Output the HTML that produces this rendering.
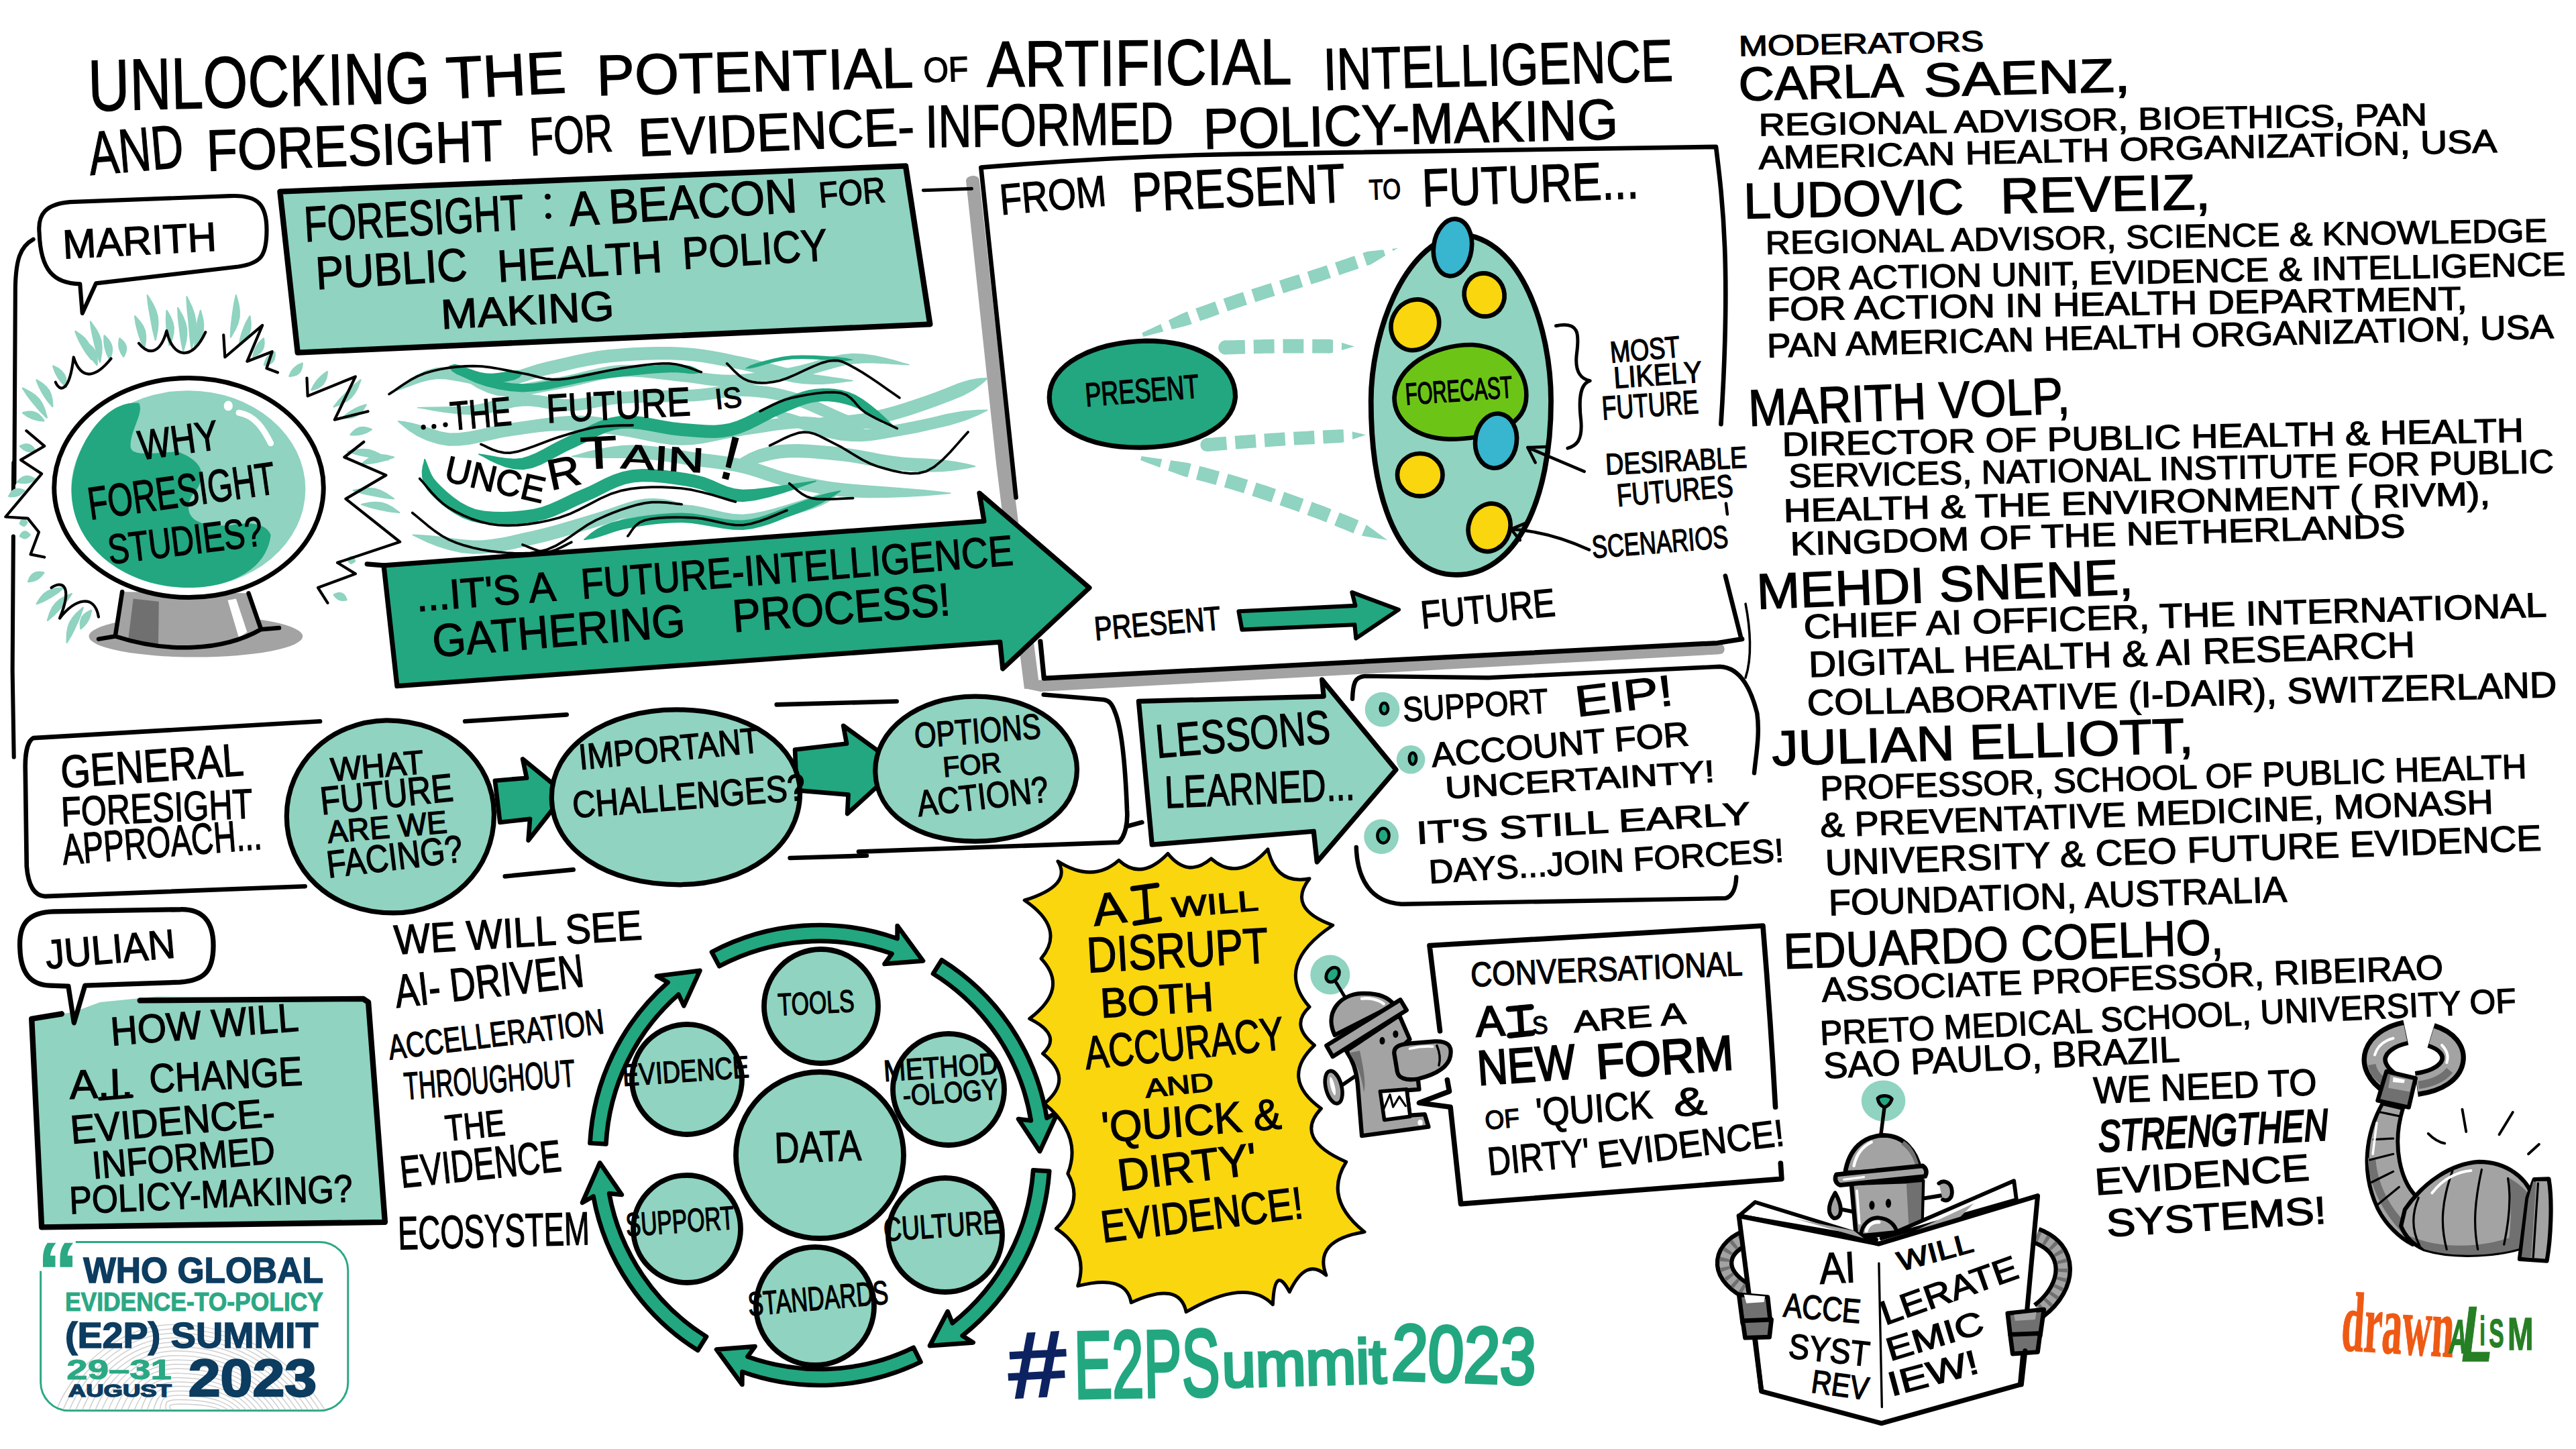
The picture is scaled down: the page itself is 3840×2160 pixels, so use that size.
<!DOCTYPE html>
<html><head><meta charset="utf-8"><title>Unlocking the potential of AI and foresight</title>
<style>
html,body{margin:0;padding:0;background:#fff;}
body{width:3840px;height:2160px;overflow:hidden;}
svg{display:block;font-family:"Liberation Sans",sans-serif;}
svg path,svg ellipse,svg line,svg polyline{stroke-linecap:round;stroke-linejoin:round;}
</style></head><body>
<svg width="3840" height="2160" viewBox="0 0 3840 2160">
<rect width="3840" height="2160" fill="#fff"/>
<!-- p01_title -->
<g transform="translate(100 40) scale(0.49689)">
<text x="65" y="252" font-size="218" transform="rotate(-1.4 65 252)" textLength="1025" lengthAdjust="spacingAndGlyphs" style="stroke:#000;stroke-width:2.8px">UNLOCKING</text>
<text x="1140" y="216" font-size="178" transform="rotate(-3 1140 216)" textLength="360" lengthAdjust="spacingAndGlyphs" style="stroke:#000;stroke-width:2.8px">THE</text>
<text x="1590" y="206" font-size="172" transform="rotate(-1.5 1590 206)" textLength="950" lengthAdjust="spacingAndGlyphs" style="stroke:#000;stroke-width:2.8px">POTENTIAL</text>
<text x="70" y="445" font-size="185" transform="rotate(-5 70 445)" textLength="285" lengthAdjust="spacingAndGlyphs" style="stroke:#000;stroke-width:2.8px">AND</text>
<text x="420" y="432" font-size="175" transform="rotate(-2 420 432)" textLength="890" lengthAdjust="spacingAndGlyphs" style="stroke:#000;stroke-width:2.8px">FORESIGHT</text>
<text x="1390" y="386" font-size="160" transform="rotate(-3 1390 386)" textLength="250" lengthAdjust="spacingAndGlyphs" style="stroke:#000;stroke-width:2.8px">FOR</text>
<text x="1715" y="388" font-size="160" transform="rotate(-2.4 1715 388)" textLength="830" lengthAdjust="spacingAndGlyphs" style="stroke:#000;stroke-width:2.8px">EVIDENCE-</text>
</g>
<g transform="translate(1280 0) scale(0.49689)">
<text x="195" y="247" font-size="105" transform="rotate(-2 195 247)" textLength="135" lengthAdjust="spacingAndGlyphs" style="stroke:#000;stroke-width:2.8px">OF</text>
<text x="385" y="260" font-size="195" transform="rotate(-0.5 385 260)" textLength="915" lengthAdjust="spacingAndGlyphs" style="stroke:#000;stroke-width:2.8px">ARTIFICIAL</text>
<text x="1395" y="270" font-size="178" transform="rotate(-1.5 1395 270)" textLength="1050" lengthAdjust="spacingAndGlyphs" style="stroke:#000;stroke-width:2.8px">INTELLIGENCE</text>
<text x="200" y="442" font-size="180" transform="rotate(-0.8 200 442)" textLength="745" lengthAdjust="spacingAndGlyphs" style="stroke:#000;stroke-width:2.8px">INFORMED</text>
<text x="1035" y="447" font-size="172" transform="rotate(-1.4 1035 447)" textLength="1245" lengthAdjust="spacingAndGlyphs" style="stroke:#000;stroke-width:2.8px">POLICY-MAKING</text>
</g>
<!-- p025_panel -->
<g transform="translate(1440 200) scale(0.49689)">
<path d="M0,140 C0,122 38,118 40,138 L135,992 L221,1664 L175,1664 L91,992 Z" fill="#a3a3a3" />
<path d="M45,100 C400,70 700,60 926,58 L2250,38 L2290,400 L2265,870 L2325,1511 L230,1630 Z" fill="#fff" />
<path d="M150,1090 L45,100 C400,70 700,60 926,58 L2250,38 C2270,200 2295,400 2265,870" fill="none" stroke="#000" stroke-width="13.4" />
<path d="M2278,1325 L2325,1511" fill="none" stroke="#000" stroke-width="13.4" />
<text x="105" y="242" font-size="130" transform="rotate(-5 105 242)" textLength="320" lengthAdjust="spacingAndGlyphs" style="stroke:#000;stroke-width:2.8px">FROM</text>
<text x="500" y="232" font-size="165" transform="rotate(-2.6 500 232)" textLength="640" lengthAdjust="spacingAndGlyphs" style="stroke:#000;stroke-width:2.8px">PRESENT</text>
<text x="1210" y="196" font-size="85" transform="rotate(-2 1210 196)" textLength="95" lengthAdjust="spacingAndGlyphs" style="stroke:#000;stroke-width:2.8px">TO</text>
<text x="1370" y="217" font-size="160" transform="rotate(-2.2 1370 217)" textLength="650" lengthAdjust="spacingAndGlyphs" style="stroke:#000;stroke-width:2.8px">FUTURE...</text>
<path d="M532.0,607.6 L542.1,605.1 L552.2,602.5 L562.2,599.9 L572.3,597.4 L582.4,594.8 L592.4,592.2 L584.1,569.4 L574.7,573.9 L565.4,578.4 L556.0,582.9 L546.7,587.4 L537.3,591.9 L528.0,596.4 Z M617.7,585.7 L627.8,583.1 L637.8,580.5 L647.9,578.0 L657.9,575.4 L668.0,572.8 L677.7,569.5 L664.1,531.9 L654.5,535.6 L645.1,540.0 L635.7,544.5 L626.4,549.0 L617.0,553.5 L607.6,558.0 Z M702.2,560.7 L711.9,557.2 L721.6,553.7 L731.3,550.2 L741.0,546.8 L750.7,543.3 L760.4,539.9 L747.2,502.2 L737.4,505.6 L727.6,509.1 L717.9,512.6 L708.1,516.0 L698.4,519.5 L688.6,523.0 Z M784.9,531.3 L794.6,528.0 L804.4,524.6 L814.1,521.3 L823.8,518.1 L833.5,514.8 L843.3,511.6 L830.9,473.6 L821.0,476.9 L811.1,480.1 L801.3,483.5 L791.4,486.8 L781.6,490.2 L771.8,493.6 Z M867.9,503.6 L877.7,500.5 L887.6,497.4 L897.4,494.2 L907.2,491.1 L917.0,488.1 L926.9,485.0 L915.0,446.8 L905.1,449.9 L895.2,453.0 L885.3,456.1 L875.4,459.2 L865.6,462.4 L855.7,465.5 Z M951.7,477.2 L961.6,474.2 L971.4,471.1 L981.3,468.0 L991.2,464.9 L1001.1,461.8 L1011.0,458.6 L998.8,420.5 L989.0,423.6 L979.2,426.7 L969.4,429.8 L959.5,432.9 L949.7,436.0 L939.8,439.0 Z M1035.8,450.7 L1045.7,447.5 L1055.5,444.2 L1065.4,441.0 L1075.2,437.7 L1085.1,434.4 L1094.9,431.2 L1082.2,393.2 L1072.4,396.5 L1062.6,399.8 L1052.8,403.0 L1043.1,406.2 L1033.3,409.4 L1023.5,412.6 Z M1119.6,422.9 L1129.4,419.6 L1139.2,416.3 L1149.0,412.9 L1158.8,409.6 L1168.6,406.3 L1178.3,403.0 L1165.5,365.1 L1155.7,368.4 L1145.9,371.7 L1136.1,375.1 L1126.3,378.4 L1116.6,381.7 L1106.8,385.0 Z M1203.0,394.6 L1212.8,391.2 L1222.1,386.5 L1231.1,381.0 L1240.1,375.5 L1249.2,369.9 L1258.2,364.4 L1252.2,346.7 L1241.6,347.9 L1231.1,349.1 L1220.6,350.3 L1210.1,351.4 L1199.8,353.4 L1190.1,356.7 Z M1280.9,350.6 L1283.3,349.1 L1285.6,347.7 L1288.0,346.3 L1290.3,344.8 L1292.7,343.4 L1295.0,342.0 L1295.0,342.0 L1292.3,342.3 L1289.5,342.6 L1286.8,342.9 L1284.1,343.2 L1281.4,343.5 L1278.6,343.8 Z" fill="#8fd3c0" />
<path d="M775.5,661.0 L785.9,660.7 L796.3,660.4 L806.6,660.1 L816.9,659.8 L827.2,659.5 L837.6,659.3 L836.4,617.3 L826.1,617.6 L815.7,617.9 L805.4,618.2 L795.1,618.5 L784.8,618.7 L774.5,619.0 Z M863.5,658.6 L873.8,658.3 L884.1,658.1 L894.4,657.8 L904.7,657.6 L915.0,657.5 L925.3,657.3 L924.6,615.3 L914.3,615.5 L903.9,615.6 L893.5,615.9 L883.2,616.1 L872.8,616.3 L862.4,616.6 Z M951.1,657.0 L961.4,656.9 L971.6,656.9 L982.0,656.9 L992.3,656.9 L1002.6,656.9 L1012.9,656.9 L1013.0,614.9 L1002.7,614.9 L992.3,614.9 L981.9,614.9 L971.6,614.9 L961.2,614.9 L950.8,615.0 Z M1038.8,657.1 L1049.2,657.1 L1059.5,657.2 L1069.8,657.3 L1080.1,657.3 L1090.5,657.4 L1100.8,655.7 L1101.1,617.3 L1090.8,615.4 L1080.4,615.3 L1070.1,615.3 L1059.8,615.2 L1049.4,615.1 L1039.1,615.1 Z M1126.9,648.1 L1133.2,646.3 L1139.6,644.4 L1145.9,642.6 L1152.3,640.7 L1158.6,638.9 L1165.0,637.0 L1165.0,637.0 L1158.7,635.1 L1152.3,633.1 L1146.0,631.2 L1139.7,629.2 L1133.4,627.3 L1127.0,625.3 Z" fill="#8fd3c0" />
<path d="M721.5,951.9 L731.8,951.2 L742.2,950.4 L752.5,949.6 L762.8,948.8 L773.1,948.0 L783.4,947.2 L780.3,907.3 L770.0,908.1 L759.7,908.9 L749.4,909.7 L739.1,910.5 L728.8,911.3 L718.5,912.1 Z M809.3,945.1 L819.6,944.4 L829.9,943.6 L840.2,942.8 L850.4,942.0 L860.7,941.2 L871.0,940.5 L868.1,900.6 L857.8,901.4 L847.5,902.1 L837.1,902.9 L826.8,903.7 L816.5,904.5 L806.2,905.3 Z M896.9,938.6 L907.2,937.9 L917.5,937.2 L927.7,936.5 L938.0,935.8 L948.3,935.1 L958.6,934.5 L956.1,894.6 L945.8,895.2 L935.4,895.9 L925.1,896.6 L914.7,897.3 L904.4,898.0 L894.1,898.7 Z M984.5,933.0 L994.7,932.4 L1005.0,931.8 L1015.3,931.3 L1025.6,930.7 L1035.9,930.2 L1046.3,929.6 L1044.2,889.7 L1033.9,890.2 L1023.5,890.8 L1013.2,891.3 L1002.9,891.9 L992.5,892.5 L982.2,893.1 Z M1072.2,928.3 L1082.5,927.8 L1092.8,927.3 L1103.1,926.8 L1113.5,926.3 L1123.8,925.8 L1134.0,924.4 L1132.2,886.2 L1121.8,885.8 L1111.5,886.3 L1101.2,886.8 L1090.8,887.3 L1080.5,887.9 L1070.2,888.4 Z M1159.6,915.7 L1166.4,913.4 L1173.1,911.2 L1179.8,908.9 L1186.6,906.6 L1193.3,904.3 L1200.0,902.0 L1200.0,902.0 L1193.1,900.4 L1186.2,898.8 L1179.3,897.2 L1172.3,895.6 L1165.4,894.0 L1158.5,892.3 Z" fill="#8fd3c0" />
<path d="M523.4,978.1 L533.1,981.8 L542.9,985.4 L552.6,989.1 L562.4,992.7 L572.1,996.3 L581.9,1000.0 L588.3,974.8 L578.0,973.4 L567.7,971.9 L557.4,970.4 L547.1,968.9 L536.9,967.4 L526.6,965.9 Z M606.4,1009.1 L616.1,1012.7 L625.8,1016.3 L635.5,1020.0 L645.2,1023.6 L655.0,1027.0 L665.0,1029.6 L675.6,988.9 L665.6,986.3 L655.4,984.5 L645.0,983.0 L634.7,981.5 L624.4,980.0 L614.2,978.5 Z M690.1,1036.2 L700.0,1038.8 L710.0,1041.5 L719.9,1044.2 L729.8,1046.8 L739.7,1049.6 L749.6,1052.3 L760.9,1011.9 L750.9,1009.1 L740.9,1006.3 L730.9,1003.6 L720.9,1000.9 L710.8,998.2 L700.8,995.6 Z M774.5,1059.4 L784.3,1062.2 L794.0,1065.1 L803.9,1068.1 L813.7,1071.1 L823.5,1074.2 L833.3,1077.2 L845.9,1037.2 L836.0,1034.1 L826.1,1031.0 L816.1,1027.9 L806.2,1024.9 L796.1,1021.9 L786.1,1019.0 Z M857.9,1085.1 L867.7,1088.3 L877.5,1091.5 L887.2,1094.7 L896.9,1097.9 L906.7,1101.2 L916.4,1104.5 L930.0,1064.8 L920.2,1061.5 L910.3,1058.1 L900.5,1054.8 L890.6,1051.6 L880.7,1048.3 L870.9,1045.1 Z M940.9,1113.0 L950.6,1116.4 L960.3,1119.8 L970.0,1123.2 L979.7,1126.7 L989.4,1130.2 L999.1,1133.7 L1013.4,1094.2 L1003.6,1090.6 L993.9,1087.1 L984.1,1083.6 L974.3,1080.2 L964.5,1076.7 L954.7,1073.3 Z M1023.4,1142.5 L1033.1,1146.1 L1042.7,1149.7 L1052.2,1153.3 L1061.8,1156.9 L1071.4,1160.6 L1080.9,1164.4 L1096.3,1125.3 L1086.6,1121.5 L1076.9,1117.7 L1067.2,1114.0 L1057.4,1110.3 L1047.6,1106.7 L1037.9,1103.1 Z M1104.9,1173.9 L1114.4,1177.8 L1124.0,1181.7 L1133.5,1185.6 L1143.0,1189.5 L1152.5,1193.5 L1162.0,1197.4 L1178.2,1158.7 L1168.6,1154.7 L1159.1,1150.7 L1149.5,1146.8 L1139.8,1142.8 L1130.2,1138.9 L1120.6,1135.0 Z M1187.1,1204.7 L1200.1,1206.9 L1213.0,1209.1 L1226.0,1211.4 L1239.0,1213.6 L1252.0,1215.8 L1265.0,1218.0 L1265.0,1218.0 L1254.3,1210.3 L1243.7,1202.6 L1233.0,1194.8 L1222.4,1187.1 L1211.7,1179.3 L1201.0,1171.6 Z" fill="#8fd3c0" />
<ellipse cx="778" cy="640" rx="21" ry="21" fill="#8fd3c0"/>
<ellipse cx="723" cy="932" rx="20" ry="20" fill="#8fd3c0"/>
<path d="M250,790 C250,690 380,625 540,620 C700,620 810,690 808,790 C800,880 680,940 520,940 C360,940 250,880 250,790 Z" fill="#22a780" stroke="#000" stroke-width="14.6" />
<text x="360" y="817" font-size="100" transform="rotate(-4.5 360 817)" textLength="342" lengthAdjust="spacingAndGlyphs" style="stroke:#000;stroke-width:2.8px">PRESENT</text>
<path d="M1480,300 C1310,330 1215,600 1215,800 C1215,1100 1300,1322 1470,1322 C1650,1322 1755,1100 1755,800 C1755,590 1670,310 1480,300 Z" fill="#8fd3c0" stroke="#000" stroke-width="15.7" />
<ellipse cx="1460" cy="340" rx="57" ry="86" fill="#38b5cf" stroke="#000" stroke-width="13.4" transform="rotate(8 1460 340)"/>
<ellipse cx="1555" cy="482" rx="60" ry="65" fill="#f9d60d" stroke="#000" stroke-width="13.4" transform="rotate(-15 1555 482)"/>
<ellipse cx="1347" cy="572" rx="70" ry="78" fill="#f9d60d" stroke="#000" stroke-width="13.4" transform="rotate(30 1347 572)"/>
<path d="M1285,790 C1290,700 1400,630 1520,632 C1630,640 1690,720 1680,800 C1670,880 1560,915 1450,915 C1350,912 1285,860 1285,790 Z" fill="#6cc516" stroke="#000" stroke-width="13.4" />
<text x="1320" y="812" font-size="92" transform="rotate(-4 1320 812)" textLength="322" lengthAdjust="spacingAndGlyphs" style="stroke:#000;stroke-width:2.8px">FORECAST</text>
<ellipse cx="1590" cy="920" rx="62" ry="82" fill="#38b5cf" stroke="#000" stroke-width="13.4" transform="rotate(8 1590 920)"/>
<ellipse cx="1362" cy="1022" rx="68" ry="64" fill="#f9d60d" stroke="#000" stroke-width="13.4"/>
<ellipse cx="1570" cy="1180" rx="62" ry="73" fill="#f9d60d" stroke="#000" stroke-width="13.4" transform="rotate(20 1570 1180)"/>
<path d="M1770,575 C1840,560 1840,600 1832,660 C1825,720 1850,735 1872,740 C1840,750 1838,800 1845,860 C1850,920 1830,935 1805,942" fill="none" stroke="#000" stroke-width="10.1" />
<text x="1935" y="686" font-size="90" transform="rotate(-5 1935 686)" textLength="210" lengthAdjust="spacingAndGlyphs" style="stroke:#000;stroke-width:2.8px">MOST</text>
<text x="1945" y="762" font-size="90" transform="rotate(-4 1945 762)" textLength="265" lengthAdjust="spacingAndGlyphs" style="stroke:#000;stroke-width:2.8px">LIKELY</text>
<text x="1910" y="857" font-size="100" transform="rotate(-4 1910 857)" textLength="290" lengthAdjust="spacingAndGlyphs" style="stroke:#000;stroke-width:2.8px">FUTURE</text>
<path d="M1855,1012 L1685,940 M1740,938 L1685,940 L1708,985" fill="none" stroke="#000" stroke-width="9.0" />
<text x="1920" y="1022" font-size="90" transform="rotate(-3 1920 1022)" textLength="425" lengthAdjust="spacingAndGlyphs" style="stroke:#000;stroke-width:2.8px">DESIRABLE</text>
<text x="1955" y="1117" font-size="95" transform="rotate(-5 1955 1117)" textLength="350" lengthAdjust="spacingAndGlyphs" style="stroke:#000;stroke-width:2.8px">FUTURES</text>
<path d="M2280,1108 L2284,1140" fill="none" stroke="#000" stroke-width="9.0" />
<path d="M1870,1247 C1800,1215 1720,1190 1635,1185 M1688,1163 L1635,1185 L1662,1218" fill="none" stroke="#000" stroke-width="9.0" />
<text x="1880" y="1272" font-size="95" transform="rotate(-4.5 1880 1272)" textLength="410" lengthAdjust="spacingAndGlyphs" style="stroke:#000;stroke-width:2.8px">SCENARIOS</text>
</g>
<g transform="translate(1280 720) scale(0.49689)">
<path d="M497,616 L520,592 L2576,486 L2590,484 C2600,490 2600,508 2590,512 L2576,514 L545,626 Z" fill="#a3a3a3" />
<path d="M545,475 L556,586 L2576,480 L2650,468" fill="none" stroke="#000" stroke-width="14.6" />
<text x="710" y="472" font-size="100" transform="rotate(-5 710 472)" textLength="380" lengthAdjust="spacingAndGlyphs" style="stroke:#000;stroke-width:2.8px">PRESENT</text>
<path d="M1140,385 L1490,368 L1480,328 L1620,380 L1492,466 L1488,425 L1150,440 Z" fill="#22a780" stroke="#000" stroke-width="12.3" />
<text x="1690" y="437" font-size="118" transform="rotate(-5.5 1690 437)" textLength="405" lengthAdjust="spacingAndGlyphs" style="stroke:#000;stroke-width:2.8px">FUTURE</text>
</g>
<!-- p02_marith -->
<g transform="translate(0 0) scale(0.49689)">
<path d="M100,718 C60,740 48,780 46,860 L43,1449" fill="none" stroke="#000" stroke-width="12.3" />
<path d="M118,700 C112,640 140,612 210,606 L690,588 C775,584 800,615 800,690 C800,765 785,790 715,800 L288,850 L247,940 L240,852 C160,850 122,810 118,700 Z" fill="#fff" stroke="#000" stroke-width="12.3" />
<text x="190" y="776" font-size="122" transform="rotate(-3 190 776)" textLength="462" lengthAdjust="spacingAndGlyphs" style="stroke:#000;stroke-width:2.8px">MARITH</text>
</g>
<g transform="translate(400 230) scale(0.49689)">
<path d="M35,112 L1912,35 L1985,510 L88,595 Z" fill="#8fd3c0" stroke="#000" stroke-width="16.8" />
<text x="110" y="262" font-size="150" transform="rotate(-3.2 110 262)" textLength="660" lengthAdjust="spacingAndGlyphs" style="stroke:#000;stroke-width:2.8px">FORESIGHT</text>
<ellipse cx="838" cy="127" rx="9" ry="9" fill="#000"/>
<ellipse cx="840" cy="185" rx="9" ry="9" fill="#000"/>
<text x="905" y="215" font-size="145" transform="rotate(-3.5 905 215)" textLength="685" lengthAdjust="spacingAndGlyphs" style="stroke:#000;stroke-width:2.8px">A BEACON</text>
<text x="1655" y="160" font-size="108" transform="rotate(-5 1655 160)" textLength="200" lengthAdjust="spacingAndGlyphs" style="stroke:#000;stroke-width:2.8px">FOR</text>
<text x="145" y="405" font-size="138" transform="rotate(-3.5 145 405)" textLength="455" lengthAdjust="spacingAndGlyphs" style="stroke:#000;stroke-width:2.8px">PUBLIC</text>
<text x="690" y="383" font-size="135" transform="rotate(-3.5 690 383)" textLength="495" lengthAdjust="spacingAndGlyphs" style="stroke:#000;stroke-width:2.8px">HEALTH</text>
<text x="1245" y="344" font-size="135" transform="rotate(-3.5 1245 344)" textLength="435" lengthAdjust="spacingAndGlyphs" style="stroke:#000;stroke-width:2.8px">POLICY</text>
<text x="520" y="524" font-size="125" transform="rotate(-3 520 524)" textLength="520" lengthAdjust="spacingAndGlyphs" style="stroke:#000;stroke-width:2.8px">MAKING</text>
<path d="M1965,108 L2110,103" fill="none" stroke="#000" stroke-width="10.1" />
</g>
<g transform="translate(0 400) scale(0.41397)">
<path d="M49,700 L48,800 M48,965 L45,1449 L50,1760" fill="none" stroke="#000" stroke-width="14.6" />
<path d="M268.2,226.4 L272.3,237.2 L278.3,252.4 L285.9,268.0 L293.3,281.3 L301.0,294.5 L310.6,308.9 L320.7,321.8 L327.9,330.8 L332.1,329.2 L331.4,317.7 L330.3,301.1 L326.3,283.0 L319.3,266.5 L308.6,252.1 L295.1,239.5 L281.3,230.0 L271.8,223.6 Z" fill="#8fd3c0" />
<path d="M298.2,261.4 L301.2,270.9 L305.5,284.4 L311.4,297.9 L317.3,309.3 L323.8,320.3 L332.2,332.4 L341.3,343.2 L347.9,350.8 L352.1,349.2 L352.1,339.2 L352.0,324.8 L349.2,309.1 L343.5,294.7 L334.3,282.3 L322.4,271.6 L310.2,263.9 L301.8,258.6 Z" fill="#8fd3c0" />
<path d="M322.9,190.8 L324.9,205.1 L327.8,225.5 L332.4,247.1 L336.9,266.3 L341.4,285.6 L346.8,307.0 L353.2,326.5 L357.8,340.2 L362.2,339.8 L364.6,325.6 L368.0,305.1 L368.8,281.8 L366.1,259.5 L358.7,238.3 L347.6,217.8 L335.5,200.9 L327.1,189.2 Z" fill="#8fd3c0" />
<path d="M372.9,240.8 L372.7,249.9 L372.5,262.7 L373.8,275.9 L375.8,287.1 L378.7,298.0 L383.1,310.5 L388.7,322.0 L392.8,330.2 L397.2,329.8 L400.2,321.3 L404.2,308.8 L406.2,294.5 L405.0,280.5 L400.1,267.4 L392.3,255.3 L383.4,245.7 L377.1,239.2 Z" fill="#8fd3c0" />
<path d="M427.9,250.8 L426.9,258.1 L425.7,268.5 L425.9,278.8 L427.0,287.2 L429.4,295.4 L433.5,304.9 L438.9,313.8 L442.8,320.1 L447.2,319.9 L450.3,313.2 L454.7,303.4 L457.0,292.2 L456.4,281.0 L452.3,270.5 L445.6,261.2 L437.7,254.0 L432.1,249.2 Z" fill="#8fd3c0" />
<path d="M483.0,170.9 L484.6,182.7 L487.0,199.4 L491.1,216.9 L495.3,232.1 L499.9,247.2 L505.9,264.1 L512.8,279.5 L517.8,290.3 L522.2,289.7 L524.2,278.0 L526.9,261.0 L527.1,242.0 L524.1,223.7 L516.8,206.7 L506.4,190.7 L495.0,177.9 L487.0,169.1 Z" fill="#8fd3c0" />
<path d="M527.9,95.7 L529.5,111.3 L532.1,133.4 L536.1,157.1 L540.1,178.4 L543.9,199.7 L548.4,223.3 L553.8,244.9 L557.8,260.1 L562.2,259.9 L565.3,244.6 L569.6,222.5 L571.5,197.3 L569.7,173.0 L562.8,149.6 L552.2,126.7 L540.4,107.5 L532.1,94.3 Z" fill="#8fd3c0" />
<path d="M597.8,150.5 L597.1,162.9 L596.2,180.4 L596.7,199.0 L597.8,215.6 L599.3,232.0 L601.6,250.6 L605.1,267.7 L607.8,279.8 L612.2,280.2 L616.6,268.6 L622.8,251.9 L627.0,232.5 L627.8,213.2 L624.1,194.4 L616.9,175.8 L608.3,160.2 L602.2,149.5 Z" fill="#8fd3c0" />
<path d="M637.8,140.6 L638.5,155.7 L639.5,177.1 L642.1,200.1 L644.7,220.7 L647.2,241.3 L650.4,264.2 L654.6,285.2 L657.8,299.9 L662.2,300.1 L666.1,285.5 L671.6,264.5 L674.9,240.4 L674.5,216.9 L669.1,194.1 L660.0,171.6 L649.5,152.5 L642.2,139.4 Z" fill="#8fd3c0" />
<path d="M669.8,100.5 L670.6,118.2 L672.0,143.4 L674.8,170.7 L677.5,195.3 L679.5,220.1 L681.9,247.4 L685.2,272.3 L687.8,289.9 L692.2,290.1 L696.7,273.0 L703.1,248.3 L707.2,220.0 L707.3,192.5 L702.0,165.5 L692.7,138.5 L681.8,115.4 L674.2,99.5 Z" fill="#8fd3c0" />
<path d="M719.8,150.0 L716.2,162.9 L711.3,181.2 L707.5,201.1 L704.6,219.0 L701.8,236.9 L699.4,257.0 L698.4,276.0 L697.9,289.3 L702.1,290.7 L709.3,279.5 L719.7,263.2 L728.7,243.7 L734.2,223.6 L735.1,202.9 L732.5,181.5 L727.7,162.9 L724.2,150.0 Z" fill="#8fd3c0" />
<path d="M847.8,95.0 L844.6,109.3 L840.3,129.7 L836.9,151.9 L834.4,171.8 L831.8,191.7 L829.4,214.0 L828.4,234.8 L827.8,249.4 L832.2,250.6 L839.4,237.9 L849.8,219.6 L858.9,197.8 L864.2,175.6 L864.6,152.8 L861.5,129.5 L856.0,109.1 L852.2,95.0 Z" fill="#8fd3c0" />
<path d="M897.8,169.6 L892.3,179.3 L884.6,193.2 L877.8,208.5 L872.5,222.3 L867.7,236.2 L863.1,252.3 L860.1,267.9 L858.0,278.9 L862.0,281.1 L870.1,273.4 L881.8,262.3 L892.8,248.0 L900.7,232.5 L904.6,215.5 L905.3,197.6 L903.5,181.5 L902.2,170.4 Z" fill="#8fd3c0" />
<path d="M947.9,249.2 L942.0,254.8 L933.8,262.7 L926.5,271.8 L921.2,280.0 L916.8,288.7 L912.7,299.5 L910.1,310.7 L908.2,318.6 L911.8,321.4 L919.0,317.8 L929.5,312.5 L939.5,304.6 L947.2,294.8 L951.7,283.2 L953.5,270.6 L952.7,258.9 L952.1,250.8 Z" fill="#8fd3c0" />
<path d="M988.1,298.9 L982.1,302.2 L973.8,306.9 L966.5,312.6 L961.3,318.0 L957.2,324.3 L953.2,332.7 L950.4,341.8 L948.5,348.3 L951.5,351.7 L958.2,350.3 L967.7,348.1 L977.1,343.5 L984.7,336.8 L989.6,327.9 L992.1,317.7 L992.1,307.9 L991.9,301.1 Z" fill="#8fd3c0" />
<path d="M1088.2,338.7 L1081.6,341.8 L1072.3,346.2 L1063.8,351.9 L1057.4,357.4 L1051.9,363.8 L1046.2,372.3 L1041.8,381.6 L1038.7,388.2 L1041.3,391.8 L1048.6,390.8 L1059.0,389.2 L1069.6,385.1 L1078.6,378.6 L1085.1,369.6 L1089.2,359.0 L1090.8,348.6 L1091.8,341.3 Z" fill="#8fd3c0" />
<path d="M1178.1,368.8 L1170.7,374.1 L1160.3,381.6 L1150.5,390.5 L1142.8,398.8 L1135.8,407.7 L1128.5,418.8 L1122.6,430.2 L1118.5,438.3 L1121.5,441.7 L1130.1,438.9 L1142.5,434.7 L1155.1,427.6 L1165.6,418.4 L1173.2,406.6 L1178.2,393.1 L1180.4,380.1 L1181.9,371.2 Z" fill="#8fd3c0" />
<path d="M1298.2,398.7 L1287.7,407.0 L1273.0,418.9 L1258.2,432.7 L1245.4,445.4 L1232.7,458.2 L1218.9,473.0 L1207.0,487.7 L1198.7,498.2 L1201.3,501.8 L1213.7,497.0 L1231.6,490.0 L1250.4,479.5 L1266.6,466.6 L1279.5,450.4 L1290.0,431.6 L1297.0,413.7 L1301.8,401.3 Z" fill="#8fd3c0" />
<path d="M1318.6,488.2 L1309.1,491.2 L1295.6,495.5 L1282.1,501.4 L1270.7,507.3 L1259.7,513.8 L1247.6,522.2 L1236.8,531.3 L1229.2,537.9 L1230.8,542.1 L1240.8,542.1 L1255.2,542.0 L1270.9,539.2 L1285.3,533.5 L1297.7,524.3 L1308.4,512.4 L1316.1,500.2 L1321.4,491.8 Z" fill="#8fd3c0" />
<path d="M78.5,431.7 L85.7,442.9 L96.2,458.8 L108.6,475.0 L120.0,489.1 L131.5,503.1 L145.0,518.4 L158.5,531.8 L168.1,541.1 L171.9,538.9 L168.4,526.0 L163.1,507.4 L154.5,487.6 L143.2,470.1 L128.3,455.5 L110.6,443.2 L93.4,434.4 L81.5,428.3 Z" fill="#8fd3c0" />
<path d="M128.3,401.4 L132.3,411.8 L138.3,426.5 L145.8,441.4 L153.1,454.1 L160.9,466.5 L170.5,480.2 L180.7,492.4 L187.9,500.9 L192.1,499.1 L191.3,488.0 L190.0,472.0 L185.9,454.6 L178.9,438.7 L168.2,425.0 L154.7,413.2 L141.2,404.5 L131.7,398.6 Z" fill="#8fd3c0" />
<path d="M188.3,351.5 L191.2,360.3 L195.5,372.6 L201.3,384.9 L207.1,394.9 L213.6,404.6 L222.1,415.1 L231.3,424.4 L237.9,430.9 L242.1,429.1 L241.9,419.9 L241.5,406.5 L238.4,392.1 L232.5,379.1 L223.3,368.1 L211.8,359.0 L199.9,352.8 L191.7,348.5 Z" fill="#8fd3c0" />
<path d="M79.5,522.2 L86.4,527.2 L96.2,534.2 L107.0,540.1 L116.5,544.2 L126.4,547.4 L138.4,550.1 L150.4,551.2 L158.9,552.0 L161.1,548.0 L156.0,541.2 L148.6,531.4 L138.5,522.5 L127.1,516.2 L114.3,513.4 L100.8,513.5 L88.8,516.0 L80.5,517.8 Z" fill="#8fd3c0" />
<path d="M69.6,642.2 L74.7,646.6 L81.9,652.8 L89.7,657.6 L96.5,660.6 L103.7,662.3 L112.8,663.1 L122.3,662.5 L129.0,662.0 L131.0,658.0 L127.5,652.3 L122.3,644.1 L114.8,636.9 L105.9,632.2 L96.0,630.6 L85.7,631.9 L76.6,635.3 L70.4,637.8 Z" fill="#8fd3c0" />
<path d="M60.6,772.2 L67.8,773.6 L77.9,775.6 L88.1,776.2 L96.5,775.6 L104.7,773.8 L114.4,770.4 L123.5,765.7 L130.0,762.2 L130.0,757.8 L123.6,754.2 L114.3,749.2 L103.4,746.1 L92.3,746.0 L81.7,749.2 L72.0,755.3 L64.5,762.7 L59.4,767.8 Z" fill="#8fd3c0" />
<path d="M31.1,824.0 L37.9,824.2 L47.4,824.5 L56.6,823.4 L63.8,821.5 L70.6,818.3 L78.4,813.2 L85.4,806.8 L90.4,802.2 L89.6,797.8 L83.2,795.5 L73.9,792.4 L63.5,791.5 L53.5,793.3 L44.7,798.4 L37.4,805.8 L32.3,814.2 L28.9,820.0 Z" fill="#8fd3c0" />
<path d="M70.7,922.1 L74.4,924.6 L79.6,928.0 L84.2,930.0 L87.2,930.5 L89.8,929.1 L93.5,925.7 L97.3,920.8 L100.0,917.2 L100.0,912.8 L97.2,909.3 L93.0,904.5 L87.8,901.4 L82.2,900.9 L77.1,903.2 L73.2,907.8 L70.8,913.7 L69.3,917.9 Z" fill="#8fd3c0" />
<path d="M70.6,967.2 L75.1,969.5 L81.3,972.8 L87.3,974.6 L91.6,975.0 L95.6,973.6 L100.9,970.3 L106.2,965.6 L109.9,962.2 L110.1,957.8 L106.5,954.2 L101.2,949.1 L94.8,945.9 L87.8,945.2 L81.3,947.6 L75.8,952.3 L72.0,958.5 L69.4,962.8 Z" fill="#8fd3c0" />
<path d="M101.4,1131.8 L108.5,1130.5 L118.5,1128.6 L128.0,1125.4 L135.5,1121.9 L142.2,1117.2 L149.7,1110.4 L156.2,1102.7 L160.8,1097.1 L159.2,1092.9 L152.0,1092.0 L141.7,1090.8 L130.5,1092.0 L120.3,1095.9 L111.9,1102.9 L105.4,1112.0 L101.3,1121.6 L98.6,1128.2 Z" fill="#8fd3c0" />
<path d="M131.4,1211.7 L141.8,1207.7 L156.5,1201.7 L171.4,1194.2 L184.1,1186.9 L196.5,1179.1 L210.2,1169.5 L222.4,1159.3 L230.9,1152.1 L229.1,1147.9 L218.0,1148.7 L202.0,1150.0 L184.6,1154.1 L168.7,1161.1 L155.0,1171.8 L143.2,1185.3 L134.5,1198.8 L128.6,1208.3 Z" fill="#8fd3c0" />
<path d="M171.9,1271.2 L181.5,1262.9 L195.1,1251.0 L208.6,1237.3 L220.1,1224.6 L231.5,1211.8 L243.8,1197.0 L254.2,1182.2 L261.4,1171.7 L258.6,1168.3 L246.9,1173.3 L230.1,1180.7 L212.7,1191.5 L197.9,1204.6 L186.4,1220.7 L177.5,1239.2 L171.9,1256.6 L168.1,1268.8 Z" fill="#8fd3c0" />
<path d="M242.2,1350.6 L249.1,1339.1 L258.9,1322.6 L268.1,1304.3 L275.8,1287.7 L283.4,1271.1 L291.4,1252.2 L297.6,1234.0 L301.9,1221.2 L298.1,1218.8 L288.1,1227.7 L273.6,1240.7 L259.5,1257.2 L248.6,1275.1 L242.0,1295.0 L238.6,1316.5 L238.1,1335.9 L237.8,1349.4 Z" fill="#8fd3c0" />
<path d="M292.1,1300.8 L298.0,1295.2 L306.2,1287.3 L313.5,1278.2 L318.8,1270.0 L323.2,1261.3 L327.3,1250.5 L329.9,1239.3 L331.8,1231.4 L328.2,1228.6 L321.0,1232.2 L310.5,1237.5 L300.5,1245.4 L292.8,1255.2 L288.3,1266.8 L286.5,1279.4 L287.3,1291.1 L287.9,1299.2 Z" fill="#8fd3c0" />
<path d="M1260.9,602.1 L1269.1,602.4 L1280.8,602.8 L1292.6,601.6 L1302.4,599.8 L1312.0,596.8 L1322.9,592.2 L1333.1,586.4 L1340.2,582.2 L1339.8,577.8 L1332.0,575.0 L1320.7,571.1 L1307.8,569.4 L1295.2,570.6 L1283.4,575.5 L1272.8,583.1 L1264.7,591.8 L1259.1,597.9 Z" fill="#8fd3c0" />
<path d="M1249.9,662.2 L1263.6,666.4 L1283.2,672.1 L1304.6,676.9 L1323.9,680.7 L1343.1,684.6 L1364.7,688.4 L1385.0,690.7 L1399.2,692.1 L1400.8,687.9 L1388.9,679.9 L1371.7,668.4 L1351.0,658.0 L1329.7,651.3 L1307.5,649.3 L1284.4,650.9 L1264.1,654.9 L1250.1,657.8 Z" fill="#8fd3c0" />
<path d="M1300.8,707.1 L1312.5,706.5 L1329.0,705.5 L1346.4,702.9 L1361.6,700.0 L1376.7,696.6 L1393.6,692.0 L1409.2,686.3 L1420.1,682.2 L1419.9,677.8 L1408.6,674.9 L1392.2,670.8 L1373.6,669.1 L1355.4,670.6 L1338.2,676.4 L1321.8,685.5 L1308.4,695.7 L1299.2,702.9 Z" fill="#8fd3c0" />
<path d="M1269.9,802.2 L1283.6,806.4 L1303.2,812.1 L1324.6,816.9 L1343.9,820.7 L1363.1,824.6 L1384.7,828.4 L1405.0,830.7 L1419.2,832.1 L1420.8,827.9 L1408.9,819.9 L1391.7,808.4 L1371.0,798.0 L1349.7,791.3 L1327.5,789.3 L1304.4,790.9 L1284.1,794.9 L1270.1,797.8 Z" fill="#8fd3c0" />
<path d="M1299.9,852.2 L1312.7,856.5 L1330.9,862.4 L1350.8,867.4 L1368.7,871.3 L1386.6,875.0 L1406.7,878.7 L1425.8,880.8 L1439.2,882.1 L1440.8,877.9 L1429.9,870.0 L1414.0,858.8 L1394.9,848.6 L1374.9,841.9 L1354.1,839.9 L1332.4,841.3 L1313.3,845.1 L1300.1,847.8 Z" fill="#8fd3c0" />
<path d="M1250.0,1052.2 L1252.7,1055.8 L1256.5,1060.7 L1260.2,1064.1 L1262.8,1065.5 L1265.8,1065.0 L1270.4,1063.0 L1275.6,1059.6 L1279.3,1057.1 L1280.7,1052.9 L1279.2,1048.7 L1276.8,1042.8 L1272.9,1038.2 L1267.8,1035.9 L1262.2,1036.4 L1257.0,1039.5 L1252.8,1044.3 L1250.0,1047.8 Z" fill="#8fd3c0" />
<path d="M1199.5,1177.2 L1203.5,1181.7 L1209.1,1188.0 L1215.3,1193.0 L1220.6,1195.9 L1226.6,1197.5 L1234.5,1198.1 L1242.9,1197.5 L1248.9,1196.9 L1251.1,1193.1 L1248.7,1187.6 L1245.0,1179.7 L1239.2,1172.8 L1231.8,1168.1 L1223.1,1166.4 L1214.1,1167.4 L1206.1,1170.5 L1200.5,1172.8 Z" fill="#8fd3c0" />
<path d="M200,410 C215,445 250,450 265,320 C290,400 340,400 400,325" fill="none" stroke="#000" stroke-width="10.1" />
<path d="M500,270 C540,320 580,300 600,225 C620,320 690,340 740,230" fill="none" stroke="#000" stroke-width="10.1" />
<path d="M805,240 L810,320 L945,205 L890,335 L980,300 L960,360 L1000,375" fill="none" stroke="#000" stroke-width="10.1" />
<path d="M1105,395 L1108,460 L1280,390 L1205,545 L1325,515" fill="none" stroke="#000" stroke-width="10.1" />
<path d="M1310,625 L1240,680 L1390,745 L1245,830 L1440,985 L1215,1060 L1280,1100 L1145,1150 L1180,1205" fill="none" stroke="#000" stroke-width="10.1" />
<path d="M95,585 L160,640 L75,690 L150,740 L20,895 L100,900 L140,950 L110,1030 L160,1040" fill="none" stroke="#000" stroke-width="10.1" />
<path d="M185,1150 C230,1120 260,1150 215,1260 C270,1190 340,1170 355,1255" fill="none" stroke="#000" stroke-width="10.1" />
<ellipse cx="705" cy="1325" rx="385" ry="75" fill="#a3a3a3"/>
<path d="M440,1165 L415,1325 C600,1385 800,1380 940,1300 L895,1170 Z" fill="#a3a3a3" />
<path d="M480,1190 L462,1335 L570,1360 L572,1200 Z" fill="#707070" />
<path d="M820,1195 L860,1330 L890,1310 L850,1190 Z" fill="#fff" />
<path d="M440,1165 L415,1325 L355,1335 M415,1325 C600,1385 800,1380 940,1300 L1005,1295 M940,1300 L895,1170" fill="none" stroke="#000" stroke-width="15.7" />
<ellipse cx="680" cy="790" rx="485" ry="395" fill="#fff" stroke="#000" stroke-width="16.8"/>
<ellipse cx="678" cy="795" rx="422" ry="355" fill="#8fd3c0"/>
<path d="M500,485 C380,470 265,640 258,790 C250,1000 450,1150 680,1150 C820,1150 960,1090 975,960 C960,920 900,910 830,925 C720,935 650,900 690,820 C760,740 720,690 640,660 C560,665 470,680 470,640 C470,580 520,520 500,485 Z" fill="#22a780" />
<path d="M860,520 C920,530 950,580 975,630" fill="none" stroke="#fff" stroke-width="22" />
<ellipse cx="822" cy="495" rx="16" ry="18" fill="#fff"/>
<text x="505" y="690" font-size="150" transform="rotate(-8 505 690)" textLength="290" lengthAdjust="spacingAndGlyphs" style="stroke:#000;stroke-width:3.4px">WHY</text>
<text x="325" y="905" font-size="165" transform="rotate(-8 325 905)" textLength="680" lengthAdjust="spacingAndGlyphs" style="stroke:#000;stroke-width:3.4px">FORESIGHT</text>
<text x="395" y="1065" font-size="150" transform="rotate(-7 395 1065)" textLength="560" lengthAdjust="spacingAndGlyphs" style="stroke:#000;stroke-width:3.4px">STUDIES?</text>
</g>
<!-- p03_waves -->
<g transform="translate(560 520) scale(0.36491)">
<path d="M60.9,181.9 L82.2,174.3 L111.5,163.5 L145.5,150.4 L181.9,137.7 L218.4,127.9 L252.6,123.3 L287.3,124.8 L326.6,130.8 L369.3,139.1 L413.5,147.9 L457.9,154.7 L500.7,156.4 L539.7,152.4 L575.0,144.9 L607.9,135.3 L639.6,124.8 L671.6,114.7 L706.3,105.7 L744.2,97.0 L783.8,87.6 L824.4,78.3 L866.1,69.7 L908.9,62.2 L953.0,56.3 L999.9,51.8 L1049.7,48.3 L1100.9,45.8 L1152.1,44.6 L1201.8,44.8 L1248.5,46.4 L1291.9,49.9 L1333.3,55.1 L1373.5,61.7 L1413.4,69.3 L1453.6,77.5 L1494.5,85.9 L1536.1,95.1 L1578.5,106.0 L1621.3,117.4 L1664.0,128.4 L1705.9,137.4 L1746.4,143.2 L1786.6,145.4 L1826.8,145.0 L1865.3,142.5 L1899.9,138.7 L1928.7,134.3 L1949.9,132.1 L1950.1,127.9 L1928.9,124.7 L1900.1,119.9 L1866.0,115.0 L1828.7,109.8 L1790.5,103.9 L1753.6,96.8 L1716.5,87.9 L1676.7,77.5 L1634.9,66.3 L1591.9,54.8 L1548.4,43.7 L1505.5,34.1 L1464.2,25.7 L1423.6,17.4 L1382.7,9.6 L1340.8,2.7 L1297.2,-2.8 L1251.5,-6.4 L1202.8,-8.1 L1151.6,-8.3 L1099.1,-7.1 L1046.6,-4.6 L995.5,-0.9 L947.0,3.7 L900.8,9.9 L856.1,17.7 L813.1,26.7 L771.8,36.1 L732.2,45.4 L693.7,54.3 L657.1,63.8 L623.4,74.5 L592.1,84.7 L562.0,93.6 L531.6,100.2 L499.3,103.6 L463.2,102.0 L422.8,95.8 L379.4,87.2 L334.9,78.9 L290.3,74.3 L247.4,76.7 L206.9,87.8 L168.5,105.2 L133.3,125.8 L102.6,146.9 L77.7,165.8 L59.1,178.1 Z" fill="#8fd3c0" />
<path d="M299.1,81.7 L319.1,95.0 L345.8,115.3 L378.6,138.0 L415.7,160.2 L455.7,179.1 L496.9,191.2 L538.9,195.3 L582.0,193.5 L625.7,187.6 L669.3,179.7 L712.2,171.3 L754.4,163.7 L796.7,155.6 L839.0,145.7 L880.6,135.4 L921.6,125.9 L961.8,118.4 L1001.5,114.1 L1041.8,113.4 L1083.4,115.6 L1125.5,119.6 L1167.4,124.7 L1208.4,129.8 L1247.4,134.0 L1282.7,137.9 L1315.1,142.4 L1346.8,147.1 L1379.1,151.1 L1413.3,153.7 L1450.4,154.1 L1490.3,152.3 L1532.0,148.8 L1574.9,144.0 L1618.3,138.0 L1661.7,131.1 L1704.7,123.7 L1747.7,114.2 L1790.7,102.3 L1832.9,89.8 L1874.1,78.1 L1913.6,68.1 L1951.5,61.4 L1991.5,58.6 L2035.0,58.9 L2078.8,61.1 L2119.7,63.8 L2154.5,65.6 L2179.7,66.9 L2180.3,63.1 L2155.9,57.0 L2122.5,46.9 L2082.4,36.4 L2038.3,27.0 L1992.8,20.5 L1948.5,18.6 L1905.4,22.7 L1862.2,31.6 L1819.6,43.4 L1777.4,55.9 L1736.1,67.3 L1695.3,76.3 L1653.8,83.5 L1611.3,90.2 L1568.9,96.0 L1527.2,100.8 L1487.2,104.1 L1449.6,105.9 L1415.4,105.4 L1383.9,103.0 L1353.2,99.2 L1321.9,94.6 L1288.6,89.9 L1252.6,86.0 L1214.0,81.9 L1173.3,76.8 L1130.7,71.6 L1087.0,67.4 L1042.7,65.1 L998.5,65.9 L954.8,70.6 L911.7,78.6 L869.4,88.4 L827.7,98.7 L786.6,108.4 L745.6,116.3 L703.3,123.8 L660.3,132.2 L618.0,139.9 L577.2,145.8 L538.7,149.1 L503.1,148.8 L467.2,142.7 L428.7,130.9 L390.2,115.8 L354.2,100.3 L323.3,87.4 L300.9,78.3 Z" fill="#8fd3c0" />
<path d="M169.9,241.9 L195.1,245.5 L230.2,252.1 L271.8,258.7 L316.4,264.5 L360.7,268.6 L401.5,269.9 L438.8,267.1 L474.3,260.7 L508.0,252.6 L540.1,244.2 L570.9,237.6 L601.2,234.1 L631.9,234.5 L663.5,238.0 L696.2,243.2 L729.9,248.7 L764.8,252.9 L800.4,254.1 L834.9,251.7 L867.1,246.8 L898.5,240.6 L930.3,234.1 L964.2,228.3 L1002.0,224.1 L1046.5,221.4 L1097.0,219.7 L1150.5,218.5 L1204.2,217.5 L1255.5,216.1 L1301.5,214.1 L1341.6,210.7 L1377.3,206.2 L1409.6,201.4 L1439.7,197.3 L1469.1,194.7 L1499.7,194.1 L1531.4,195.4 L1562.5,197.7 L1593.5,201.4 L1625.1,206.7 L1658.1,213.8 L1692.9,223.1 L1730.7,236.1 L1771.9,253.3 L1815.2,272.5 L1859.4,291.4 L1903.1,307.7 L1944.8,319.2 L1985.6,325.4 L2026.3,327.8 L2064.9,327.5 L2099.7,325.4 L2128.6,322.6 L2149.9,321.9 L2150.1,318.1 L2129.0,314.9 L2100.3,310.1 L2066.3,305.0 L2029.3,298.9 L1991.5,291.0 L1955.2,280.8 L1918.2,266.6 L1877.6,248.6 L1834.8,228.7 L1791.1,208.9 L1748.0,191.0 L1707.1,176.9 L1669.5,166.9 L1634.2,159.2 L1600.3,153.6 L1567.1,149.7 L1534.1,147.2 L1500.3,145.9 L1466.5,146.4 L1434.3,149.3 L1402.9,153.6 L1370.8,158.3 L1336.6,162.6 L1298.5,165.9 L1253.8,167.9 L1203.2,169.2 L1149.5,170.2 L1095.6,171.4 L1044.3,173.2 L998.0,175.9 L957.5,180.5 L921.5,186.6 L889.0,193.2 L858.8,199.2 L829.5,203.7 L799.6,205.9 L768.5,204.8 L736.7,200.9 L703.8,195.5 L669.9,190.1 L634.8,186.3 L598.8,185.9 L563.1,189.9 L528.8,197.3 L495.7,206.2 L463.4,215.6 L431.4,224.0 L398.5,230.1 L360.7,233.7 L317.6,235.5 L273.2,236.3 L231.3,236.8 L195.7,237.8 L170.1,238.1 Z" fill="#8fd3c0" />
<path d="M89.2,296.9 L108.5,313.1 L135.7,334.7 L170.3,356.6 L210.6,375.5 L254.1,389.0 L297.8,396.4 L341.1,396.3 L384.6,390.9 L428.0,382.4 L471.0,372.7 L513.0,363.4 L554.2,356.1 L596.0,350.1 L638.9,344.0 L681.5,338.1 L723.3,333.0 L763.4,328.9 L801.1,326.4 L838.3,325.9 L876.5,327.0 L913.9,326.5 L948.5,323.4 L978.1,317.8 L999.8,312.1 L1000.2,307.9 L979.6,299.1 L951.5,288.4 L917.3,279.7 L879.0,274.5 L838.8,273.0 L798.9,273.6 L759.0,276.2 L717.4,280.4 L674.7,285.6 L631.5,291.6 L588.5,297.8 L545.8,303.9 L502.7,311.5 L459.4,321.0 L417.0,330.7 L376.2,338.7 L337.6,343.5 L302.2,343.6 L266.4,337.6 L227.9,325.9 L188.5,313.4 L150.3,302.7 L116.2,295.9 L90.8,293.1 Z" fill="#8fd3c0" />
<path d="M510.4,351.9 L537.2,350.6 L574.1,348.4 L617.4,344.5 L663.6,340.0 L709.2,336.1 L751.1,334.0 L790.7,333.8 L831.0,335.6 L872.0,339.0 L913.5,343.6 L955.2,348.8 L996.7,353.9 L1037.4,360.2 L1078.4,368.5 L1120.2,377.4 L1162.7,385.7 L1206.0,391.8 L1250.0,394.1 L1293.9,391.9 L1337.2,386.1 L1379.7,378.1 L1421.6,369.2 L1462.8,360.8 L1503.8,353.8 L1545.4,347.6 L1587.1,340.9 L1628.4,334.5 L1669.3,329.2 L1709.8,325.5 L1749.9,324.0 L1792.9,324.4 L1840.3,326.4 L1888.3,329.0 L1933.4,331.1 L1971.9,331.8 L1999.7,331.9 L2000.3,328.1 L1973.7,320.3 L1936.9,308.9 L1892.9,297.2 L1844.9,286.9 L1796.2,279.3 L1750.1,276.0 L1706.8,277.3 L1664.0,281.2 L1621.6,286.7 L1579.6,293.2 L1538.0,299.9 L1496.2,306.2 L1453.9,313.3 L1411.7,321.9 L1370.3,330.7 L1329.5,338.4 L1289.4,343.8 L1250.0,345.9 L1210.7,343.7 L1170.7,338.0 L1129.8,330.1 L1088.2,321.2 L1045.9,312.7 L1003.3,306.1 L961.2,300.8 L919.1,295.6 L876.7,291.0 L834.1,287.4 L791.5,285.5 L748.9,286.0 L704.0,291.2 L657.2,300.7 L611.3,313.0 L569.6,326.4 L534.8,339.3 L509.6,348.1 Z" fill="#8fd3c0" />
<path d="M1730.1,312.2 L1760.2,321.3 L1801.8,329.4 L1850.9,331.7 L1903.6,328.6 L1956.1,323.9 L2004.5,317.2 L2048.7,308.5 L2091.7,298.2 L2134.0,286.5 L2175.7,273.7 L2217.3,260.2 L2259.1,246.1 L2304.3,229.7 L2352.8,210.8 L2401.1,191.0 L2444.0,168.0 L2477.8,143.1 L2500.8,122.0 L2499.2,118.0 L2467.8,119.4 L2426.4,126.0 L2380.2,140.3 L2332.4,159.5 L2284.8,178.1 L2240.9,193.9 L2199.9,207.8 L2159.1,221.1 L2118.5,233.5 L2077.9,244.8 L2036.9,254.6 L1995.5,262.8 L1949.9,269.0 L1899.4,273.6 L1847.9,277.0 L1799.7,283.9 L1759.0,295.6 L1729.9,307.8 Z" fill="#8fd3c0" />
<path d="M1450.7,482.1 L1474.5,481.9 L1506.3,479.1 L1542.3,472.5 L1580.0,463.3 L1617.4,453.6 L1653.3,447.4 L1689.8,444.8 L1729.1,444.6 L1770.3,446.3 L1812.6,449.4 L1855.1,453.3 L1896.9,457.4 L1937.0,462.6 L1976.5,469.4 L2016.7,477.1 L2058.2,485.0 L2101.6,492.1 L2147.5,497.5 L2199.1,501.1 L2256.5,503.3 L2315.1,502.0 L2370.1,496.9 L2416.6,489.1 L2450.0,482.2 L2450.0,477.8 L2417.0,469.4 L2370.7,460.2 L2316.2,453.0 L2258.4,448.5 L2202.1,446.0 L2152.5,442.5 L2109.3,437.4 L2067.8,430.6 L2027.1,422.9 L1986.4,415.1 L1945.2,408.0 L1903.1,402.6 L1860.4,398.3 L1817.1,394.3 L1773.4,391.2 L1730.1,389.4 L1687.7,389.7 L1646.7,392.6 L1605.6,399.7 L1564.5,410.7 L1526.4,426.2 L1493.7,444.6 L1467.8,463.4 L1449.3,477.9 Z" fill="#8fd3c0" />
<path d="M800.2,442.2 L827.9,443.8 L866.2,445.7 L911.2,446.4 L959.2,446.4 L1006.5,446.5 L1049.5,447.4 L1090.2,449.6 L1132.1,453.7 L1174.3,459.2 L1216.3,465.4 L1257.2,471.7 L1296.3,477.3 L1332.8,482.0 L1366.9,486.3 L1399.4,490.5 L1430.9,495.0 L1462.1,500.4 L1493.7,506.9 L1525.2,515.0 L1556.3,524.8 L1588.1,535.5 L1621.2,546.7 L1656.4,557.4 L1693.6,566.9 L1731.2,575.2 L1768.7,583.0 L1807.8,590.3 L1849.9,597.0 L1896.1,602.7 L1948.0,607.3 L2011.5,609.3 L2086.4,608.7 L2165.3,605.8 L2240.6,601.4 L2304.7,595.9 L2350.0,592.2 L2350.0,587.8 L2304.8,582.6 L2240.9,575.7 L2165.9,569.2 L2087.6,563.2 L2013.7,557.7 L1952.0,552.7 L1902.0,547.9 L1857.5,542.3 L1817.2,535.9 L1779.4,528.9 L1742.8,521.2 L1706.4,513.1 L1671.2,504.2 L1638.1,494.1 L1605.7,483.2 L1573.4,472.3 L1540.3,462.0 L1506.3,453.1 L1472.4,446.1 L1439.5,440.5 L1406.9,435.8 L1373.8,431.5 L1339.7,427.3 L1303.7,422.7 L1265.3,417.1 L1224.5,410.9 L1181.9,404.5 L1138.3,398.9 L1094.3,394.6 L1050.5,392.6 L1004.4,394.8 L955.6,401.0 L907.5,409.9 L863.4,420.2 L826.5,430.7 L799.8,437.8 Z" fill="#8fd3c0" />
<path d="M149.5,762.1 L175.3,774.2 L211.1,791.0 L254.5,808.1 L302.5,823.0 L352.0,833.5 L399.2,837.6 L443.5,836.4 L487.1,831.8 L530.1,824.6 L572.5,815.9 L614.4,806.4 L656.2,796.9 L699.0,786.7 L742.5,775.1 L785.8,762.7 L828.3,750.1 L869.1,737.9 L908.0,726.4 L945.0,714.8 L979.9,702.7 L1012.7,691.1 L1043.8,680.9 L1073.9,672.8 L1103.3,667.4 L1135.0,665.1 L1169.9,663.8 L1205.6,662.3 L1239.4,659.9 L1268.6,656.0 L1289.8,652.2 L1290.2,647.8 L1270.3,640.2 L1242.8,629.7 L1209.4,620.2 L1172.3,613.2 L1133.9,610.3 L1096.7,612.6 L1061.8,618.9 L1028.0,628.0 L994.8,638.9 L961.6,650.6 L927.7,662.4 L892.0,673.6 L853.4,685.0 L812.5,697.3 L770.4,709.8 L727.8,721.9 L685.5,733.2 L643.8,743.1 L602.2,752.5 L560.8,761.9 L519.9,770.4 L479.6,777.1 L439.8,781.4 L400.8,782.4 L358.9,779.1 L312.3,773.3 L264.2,766.9 L218.6,761.6 L179.1,758.8 L150.5,757.9 Z" fill="#8fd3c0" />
<path d="M1000.4,701.9 L1028.9,703.1 L1068.1,702.4 L1113.4,698.5 L1161.1,692.6 L1207.7,686.5 L1249.8,684.1 L1288.5,687.1 L1328.2,694.7 L1369.4,704.7 L1411.9,714.8 L1455.8,722.2 L1500.7,724.1 L1546.3,719.7 L1592.2,711.0 L1637.6,699.6 L1681.1,686.8 L1721.3,674.2 L1757.3,663.0 L1790.6,652.1 L1821.8,640.1 L1849.1,625.9 L1871.4,610.2 L1888.3,594.4 L1900.8,581.8 L1899.2,578.2 L1881.4,578.7 L1858.3,580.9 L1832.2,586.6 L1804.1,595.5 L1774.5,606.5 L1742.7,617.0 L1706.9,628.1 L1667.1,640.6 L1624.9,652.9 L1581.8,663.8 L1539.4,671.9 L1499.3,675.9 L1460.9,674.2 L1421.5,667.4 L1380.6,657.8 L1338.4,647.5 L1294.9,639.3 L1250.2,635.9 L1203.1,638.5 L1153.7,645.2 L1105.3,656.5 L1061.5,671.0 L1025.5,686.3 L999.6,698.1 Z" fill="#8fd3c0" />
<path d="M1599.3,251.8 L1629.2,272.8 L1672.5,299.0 L1726.1,323.8 L1785.0,344.8 L1843.3,362.5 L1896.1,373.8 L1942.1,378.4 L1984.3,378.6 L2024.6,375.2 L2064.9,369.4 L2107.3,362.0 L2154.4,353.8 L2211.5,342.9 L2277.6,328.4 L2346.2,312.1 L2410.3,292.3 L2463.4,270.3 L2500.5,251.9 L2499.5,248.1 L2458.1,248.5 L2400.8,253.6 L2335.1,265.4 L2266.9,281.3 L2201.7,295.6 L2145.6,306.2 L2099.0,314.4 L2057.3,321.7 L2019.1,327.3 L1982.4,330.3 L1944.7,330.2 L1903.9,326.2 L1855.5,315.8 L1800.1,298.9 L1742.6,278.7 L1686.8,261.8 L1637.2,251.8 L1600.7,248.2 Z" fill="#8fd3c0" />
<path d="M299.4,71.5 L310.7,90.3 L331.4,103.9 L358.6,114.8 L388.3,125.5 L418.6,134.4 L448.0,139.7 L477.5,140.3 L508.1,137.4 L537.9,132.6 L565.1,127.2 L586.7,117.9 L600.3,101.6 L599.7,98.4 L580.7,88.1 L557.1,88.4 L530.9,93.6 L503.0,98.1 L475.9,100.7 L452.0,100.3 L427.9,95.9 L400.6,87.9 L372.7,77.7 L346.3,67.2 L322.0,62.2 L300.6,68.5 Z" fill="#22a780" />
<path d="M349.7,111.3 L374.8,123.3 L409.7,138.9 L452.5,153.6 L500.6,165.1 L550.7,173.3 L599.9,176.5 L648.8,173.6 L699.1,166.3 L750.2,156.2 L801.6,145.0 L852.4,134.6 L902.4,126.3 L954.0,119.7 L1008.2,113.2 L1062.3,107.4 L1114.0,102.4 L1161.0,98.6 L1200.5,96.5 L1232.4,96.6 L1258.9,98.6 L1281.0,101.3 L1300.0,101.8 L1316.4,99.7 L1329.8,96.3 L1330.2,93.7 L1319.2,86.0 L1305.2,77.1 L1286.5,69.9 L1262.5,65.8 L1233.6,63.6 L1199.5,63.5 L1158.7,65.7 L1111.1,69.5 L1058.9,74.5 L1004.4,80.5 L949.9,86.9 L897.6,93.7 L846.4,102.1 L794.7,112.7 L743.5,123.8 L693.5,133.7 L645.4,140.8 L600.1,143.5 L554.4,140.5 L506.9,132.7 L460.0,122.6 L416.3,114.5 L378.4,109.9 L350.3,108.7 Z" fill="#22a780" />
<path d="M1510.2,80.6 L1531.6,80.1 L1559.2,73.7 L1591.4,64.3 L1626.9,55.1 L1663.9,47.4 L1700.6,42.7 L1741.1,41.3 L1787.9,42.3 L1836.4,44.9 L1882.4,48.1 L1921.7,49.2 L1950.0,45.6 L1950.0,44.4 L1922.5,37.4 L1883.5,32.7 L1837.3,29.5 L1788.4,26.9 L1741.1,25.9 L1699.4,27.3 L1661.4,32.2 L1623.4,40.1 L1587.3,49.4 L1554.9,58.9 L1528.3,68.8 L1509.8,79.4 Z" fill="#22a780" />
<path d="M419.4,432.0 L437.8,440.7 L462.7,454.6 L493.4,469.5 L528.0,482.9 L565.1,492.1 L602.9,494.1 L640.0,487.0 L676.0,473.3 L711.0,455.9 L745.1,437.3 L778.3,419.5 L811.2,403.9 L844.3,388.6 L876.7,372.1 L908.1,356.4 L939.1,342.8 L970.4,332.4 L1002.7,326.3 L1038.4,325.4 L1078.1,329.1 L1120.5,336.0 L1163.8,344.1 L1206.8,351.6 L1247.5,356.3 L1284.1,359.1 L1318.5,361.9 L1352.2,363.9 L1386.0,364.2 L1420.4,361.8 L1456.1,355.7 L1492.9,344.6 L1529.5,329.2 L1565.1,311.7 L1599.2,293.8 L1631.0,277.5 L1660.5,264.2 L1688.0,252.9 L1713.6,242.2 L1737.3,232.9 L1759.5,225.3 L1780.9,219.7 L1803.0,216.2 L1825.8,214.6 L1848.3,214.5 L1870.6,216.2 L1893.0,219.9 L1916.2,225.3 L1940.4,232.3 L1968.6,243.4 L2001.5,259.6 L2036.1,278.2 L2069.4,296.3 L2098.3,311.1 L2118.8,321.7 L2121.2,318.3 L2104.2,302.8 L2081.0,280.0 L2052.6,254.3 L2021.5,228.5 L1989.7,205.4 L1959.6,187.7 L1931.5,176.0 L1904.0,168.3 L1876.9,163.8 L1850.2,161.8 L1823.8,161.9 L1797.0,163.8 L1770.2,168.0 L1744.2,174.7 L1719.0,183.4 L1693.8,193.3 L1667.8,204.1 L1639.5,215.8 L1608.1,229.9 L1574.9,246.9 L1541.2,264.6 L1507.5,281.2 L1474.9,294.9 L1443.9,304.3 L1414.1,309.3 L1384.4,311.4 L1354.0,311.1 L1322.2,309.2 L1288.3,306.5 L1252.5,303.7 L1214.4,299.3 L1173.2,292.2 L1129.5,284.0 L1084.9,276.8 L1040.3,272.6 L997.3,273.7 L957.2,281.3 L920.2,293.5 L885.7,308.6 L852.9,324.9 L821.2,341.1 L788.8,356.1 L754.5,372.4 L720.0,390.8 L686.5,409.1 L654.4,425.2 L624.4,437.8 L597.1,445.9 L568.4,448.7 L535.7,446.7 L501.6,441.7 L469.1,435.7 L440.9,431.0 L420.6,428.0 Z" fill="#22a780" />
<path d="M197.9,450.3 L196.0,462.4 L191.5,479.0 L188.5,499.8 L189.1,524.1 L195.8,550.6 L210.1,575.9 L230.6,599.4 L255.8,623.5 L285.3,647.9 L318.3,670.9 L354.3,690.8 L392.6,705.3 L433.7,714.0 L477.8,718.2 L523.6,718.9 L569.4,716.7 L613.6,712.2 L655.0,705.9 L693.7,696.6 L730.0,683.8 L764.1,669.0 L796.6,653.4 L828.2,638.3 L860.6,624.2 L894.0,609.4 L926.5,593.3 L958.1,577.7 L989.3,563.8 L1020.7,553.0 L1053.6,546.2 L1090.1,543.5 L1130.2,544.1 L1172.3,547.5 L1214.9,552.8 L1256.4,559.2 L1294.5,565.8 L1327.0,574.2 L1356.5,585.8 L1386.6,599.3 L1419.4,612.5 L1456.9,622.5 L1500.1,625.5 L1550.7,619.5 L1607.6,606.5 L1666.1,589.4 L1721.2,570.8 L1767.6,553.5 L1800.5,542.1 L1799.5,537.9 L1764.8,542.4 L1715.8,549.2 L1658.9,558.1 L1599.8,566.8 L1544.7,573.0 L1499.9,574.5 L1466.0,570.5 L1436.1,562.4 L1407.2,550.7 L1376.9,537.1 L1343.2,523.9 L1305.5,514.2 L1264.9,507.1 L1222.2,500.5 L1177.7,495.0 L1132.8,491.4 L1088.6,490.7 L1046.4,493.8 L1006.8,502.1 L970.0,514.7 L935.7,529.8 L903.1,546.0 L871.6,561.6 L839.4,575.8 L806.3,590.2 L773.8,605.8 L742.1,621.0 L710.7,634.7 L678.8,646.0 L645.0,654.1 L607.0,659.8 L565.4,664.0 L522.7,666.1 L480.7,665.5 L441.5,661.8 L407.4,654.7 L376.5,642.9 L346.2,626.1 L317.2,605.9 L290.8,584.0 L268.0,562.2 L249.9,544.1 L237.3,529.0 L228.0,512.9 L220.3,495.2 L213.7,477.3 L207.3,461.3 L202.1,449.7 Z" fill="#22a780" />
<path d="M850.7,781.4 L868.1,779.2 L890.7,774.8 L916.4,767.5 L944.2,758.1 L973.5,747.8 L1004.6,739.3 L1039.6,732.0 L1079.0,725.1 L1121.3,719.0 L1164.8,714.2 L1208.2,711.0 L1249.7,709.8 L1290.2,712.3 L1331.9,718.4 L1374.6,726.4 L1417.4,734.0 L1459.8,739.3 L1501.1,739.8 L1539.7,734.9 L1575.7,726.5 L1609.6,715.6 L1642.3,703.3 L1674.3,690.7 L1706.9,678.6 L1742.7,665.4 L1781.3,650.0 L1819.0,632.1 L1853.0,613.2 L1880.8,595.2 L1900.6,581.5 L1899.4,578.5 L1875.6,582.7 L1843.3,589.7 L1806.0,600.4 L1766.9,613.7 L1728.6,628.4 L1693.1,641.4 L1660.2,653.7 L1628.1,666.3 L1596.6,678.2 L1565.1,688.3 L1532.7,695.9 L1498.9,700.2 L1462.6,699.8 L1423.3,694.9 L1381.7,687.4 L1338.4,679.4 L1294.3,672.9 L1250.3,670.2 L1206.2,671.4 L1161.1,674.7 L1116.2,679.7 L1072.8,686.0 L1032.2,693.1 L995.4,700.7 L961.5,710.1 L929.9,721.9 L902.3,736.2 L879.7,751.9 L862.3,767.0 L849.3,778.6 Z" fill="#22a780" />
<path d="M55.0,185.0 L70.1,175.1 L90.6,160.9 L115.0,144.4 L142.2,127.4 L171.0,112.0 L200.0,100.0 L230.2,91.1 L262.6,83.7 L296.6,77.8 L331.3,73.5 L366.0,70.9 L400.0,70.0 L433.9,71.6 L468.5,75.7 L503.1,81.6 L537.0,88.1 L569.6,94.6 L600.0,100.0 L626.7,105.3 L650.0,111.3 L671.9,117.2 L694.4,122.0 L719.8,124.9 L750.0,125.0 L786.5,121.3 L827.8,114.3 L871.9,105.3 L916.7,95.7 L960.1,86.9 L1000.0,80.0 L1037.0,74.6 L1073.0,69.4 L1107.5,65.0 L1140.4,61.7 L1171.3,59.9 L1200.0,60.0 L1227.2,63.1 L1253.3,68.9 L1277.5,76.2 L1298.9,83.9 L1316.7,90.6 L1330.0,95.0" fill="none" stroke="#000" stroke-width="10.1" />
<path d="M1435.0,60.0 L1443.7,68.4 L1455.4,80.7 L1469.4,95.0 L1485.2,109.3 L1502.2,121.6 L1520.0,130.0 L1538.3,135.0 L1557.4,138.1 L1577.8,139.4 L1599.8,138.5 L1623.8,135.4 L1650.0,130.0 L1680.3,120.0 L1714.8,105.2 L1751.2,88.1 L1787.4,71.5 L1821.1,57.9 L1850.0,50.0 L1872.7,47.6 L1890.7,48.5 L1906.2,52.5 L1921.5,59.3 L1938.7,68.5 L1960.0,80.0 L1988.0,96.2 L2021.5,117.8 L2056.9,141.9 L2090.7,165.6 L2119.6,185.9 L2140.0,200.0" fill="none" stroke="#000" stroke-width="10.1" />
<path d="M1570.0,255.0 L1583.3,248.6 L1601.1,239.4 L1622.5,228.8 L1646.7,217.8 L1672.8,207.8 L1700.0,200.0 L1730.4,193.5 L1765.2,187.0 L1801.9,181.6 L1838.1,178.0 L1871.6,177.1 L1900.0,180.0 L1922.1,187.7 L1939.6,199.8 L1954.4,214.7 L1968.1,230.7 L1982.8,246.4 L2000.0,260.0 L2021.4,272.5 L2045.9,285.2 L2071.2,297.5 L2095.2,308.7 L2115.5,318.1 L2130.0,325.0" fill="none" stroke="#000" stroke-width="10.1" />
<path d="M1610.0,395.0 L1625.3,387.8 L1646.7,376.9 L1671.9,364.4 L1698.9,352.6 L1725.6,343.7 L1750.0,340.0 L1771.8,341.8 L1792.6,347.4 L1813.1,355.9 L1834.1,366.5 L1856.1,378.1 L1880.0,390.0 L1905.7,403.5 L1932.6,419.6 L1960.6,436.9 L1989.6,453.7 L2019.5,468.6 L2050.0,480.0 L2081.9,489.5 L2115.6,498.5 L2150.0,505.6 L2184.4,509.3 L2218.1,507.9 L2250.0,500.0 L2282.0,481.9 L2315.2,454.1 L2347.5,421.2 L2377.0,388.1 L2401.9,359.5 L2420.0,340.0" fill="none" stroke="#000" stroke-width="10.1" />
<path d="M430.0,390.0 L442.1,395.0 L458.1,402.8 L477.5,411.6 L499.6,419.4 L524.0,424.5 L550.0,425.0 L579.3,419.7 L612.6,409.8 L648.1,397.2 L684.1,383.5 L718.6,370.5 L750.0,360.0 L777.9,351.5 L803.7,343.6 L828.1,336.4 L851.9,330.0 L875.6,324.5 L900.0,320.0 L926.7,316.7 L955.6,314.7 L984.4,313.5 L1011.1,312.9 L1033.7,312.5 L1050.0,312.0" fill="none" stroke="#000" stroke-width="10.1" />
<path d="M180.0,530.0 L192.1,543.6 L208.1,563.0 L227.5,585.6 L249.6,609.3 L274.0,631.5 L300.0,650.0 L328.1,665.7 L358.9,680.7 L391.9,694.4 L426.7,705.9 L462.8,714.7 L500.0,720.0 L538.8,721.7 L579.6,720.4 L621.9,716.2 L664.8,709.6 L707.8,700.8 L750.0,690.0 L791.7,675.1 L833.3,655.6 L875.0,633.8 L916.7,612.2 L958.3,593.5 L1000.0,580.0 L1042.0,571.8 L1084.4,566.9 L1126.9,564.7 L1168.9,564.8 L1210.1,566.7 L1250.0,570.0 L1290.9,576.0 L1333.7,585.6 L1375.6,596.9 L1414.1,608.3 L1446.4,618.3 L1470.0,625.0" fill="none" stroke="#000" stroke-width="10.1" />
<path d="M150.0,670.0 L165.7,682.7 L187.0,700.7 L212.5,721.9 L240.7,743.7 L270.4,763.9 L300.0,780.0 L330.4,792.5 L363.0,803.3 L396.9,812.5 L431.5,820.0 L466.1,825.8 L500.0,830.0 L533.3,833.1 L566.7,835.2 L600.0,835.6 L633.3,833.7 L666.7,828.7 L700.0,820.0 L733.3,805.8 L766.7,786.3 L800.0,763.8 L833.3,740.4 L866.7,718.4 L900.0,700.0 L933.9,684.6 L968.5,670.2 L1003.1,657.2 L1037.0,645.9 L1069.6,636.7 L1100.0,630.0 L1129.6,626.6 L1159.3,626.3 L1187.5,628.1 L1213.0,630.9 L1234.3,633.6 L1250.0,635.0" fill="none" stroke="#000" stroke-width="10.1" />
<path d="M1030.0,765.0 L1036.1,757.3 L1043.3,746.1 L1052.5,733.1 L1064.4,720.0 L1080.0,708.4 L1100.0,700.0 L1125.8,694.7 L1157.0,691.1 L1191.9,689.1 L1228.5,688.3 L1265.2,688.7 L1300.0,690.0 L1333.6,693.7 L1367.4,700.4 L1401.2,708.1 L1434.8,715.2 L1467.8,719.7 L1500.0,720.0 L1533.2,714.5 L1568.1,704.4 L1602.5,691.9 L1634.1,678.9 L1660.6,667.6 L1680.0,660.0" fill="none" stroke="#000" stroke-width="10.1" />
<path d="M600.0,800.0 L610.9,804.1 L625.9,810.4 L643.8,817.5 L663.0,824.1 L682.2,828.7 L700.0,830.0 L717.8,826.9 L737.0,820.4 L756.2,811.9 L774.1,803.0 L789.1,795.2 L800.0,790.0" fill="none" stroke="#000" stroke-width="10.1" />
<path d="M1690.0,550.0 L1698.9,557.2 L1710.4,567.8 L1724.4,580.0 L1740.7,592.2 L1759.3,602.8 L1780.0,610.0 L1805.7,613.5 L1837.0,614.4 L1870.6,613.8 L1903.0,612.2 L1930.6,610.7 L1950.0,610.0" fill="none" stroke="#000" stroke-width="10.1" />
<ellipse cx="195" cy="320" rx="10" ry="10" fill="#000"/>
<ellipse cx="238" cy="317" rx="10" ry="10" fill="#000"/>
<ellipse cx="285" cy="310" rx="10" ry="10" fill="#000"/>
<text x="310" y="332" font-size="165" transform="rotate(-5 310 332)" textLength="250" lengthAdjust="spacingAndGlyphs" style="stroke:#000;stroke-width:3.8px">THE</text>
<text x="700" y="302" font-size="165" transform="rotate(-3 700 302)" textLength="590" lengthAdjust="spacingAndGlyphs" style="stroke:#000;stroke-width:3.8px">FUTURE</text>
<text x="1390" y="247" font-size="118" transform="rotate(-6 1390 247)" textLength="110" lengthAdjust="spacingAndGlyphs" style="stroke:#000;stroke-width:3.8px">IS</text>
<text x="275" y="538" font-size="150" transform="rotate(13 275 538)" textLength="415" lengthAdjust="spacingAndGlyphs" style="stroke:#000;stroke-width:3.8px">UNCE</text>
<text x="715" y="578" font-size="175" transform="rotate(-12 715 578)" textLength="135" lengthAdjust="spacingAndGlyphs" style="stroke:#000;stroke-width:3.8px">R</text>
<text x="840" y="492" font-size="185" transform="rotate(-3 840 492)" textLength="150" lengthAdjust="spacingAndGlyphs" style="stroke:#000;stroke-width:3.8px">T</text>
<text x="1000" y="487" font-size="140" transform="rotate(3 1000 487)" textLength="340" lengthAdjust="spacingAndGlyphs" style="stroke:#000;stroke-width:3.8px">AIN</text>
<text x="1395" y="522" font-size="250" transform="rotate(14 1395 522)" style="stroke:#000;stroke-width:3.8px">!</text>
</g>
<g transform="translate(500 500) scale(0.49689)">
<path d="M145,690 L1946,557 L1932,473 L2262,757 L2002,1000 L1994,920 L185,1052 Z" fill="#22a780" stroke="#000" stroke-width="14.6" />
<path d="M95,686 L145,690" fill="none" stroke="#000" stroke-width="14.6" />
<text x="245" y="828" font-size="125" transform="rotate(-4.5 245 828)" textLength="420" lengthAdjust="spacingAndGlyphs" style="stroke:#000;stroke-width:2.8px">...IT&#x27;S A</text>
<text x="740" y="790" font-size="128" transform="rotate(-4.5 740 790)" textLength="1300" lengthAdjust="spacingAndGlyphs" style="stroke:#000;stroke-width:2.8px">FUTURE-INTELLIGENCE</text>
<text x="295" y="965" font-size="138" transform="rotate(-4.8 295 965)" textLength="760" lengthAdjust="spacingAndGlyphs" style="stroke:#000;stroke-width:2.8px">GATHERING</text>
<text x="1195" y="890" font-size="138" transform="rotate(-4.5 1195 890)" textLength="655" lengthAdjust="spacingAndGlyphs" style="stroke:#000;stroke-width:2.8px">PROCESS!</text>
</g>
<!-- p05_mods -->
<g transform="translate(2560 0) scale(0.49689)">
<text x="65" y="168" font-size="86" transform="rotate(-1.2 65 168)" textLength="735" lengthAdjust="spacingAndGlyphs" style="stroke:#000;stroke-width:2.8px">MODERATORS</text>
<text x="65" y="302" font-size="142" transform="rotate(-1.5 65 302)" textLength="495" lengthAdjust="spacingAndGlyphs" style="stroke:#000;stroke-width:3px">CARLA</text>
<text x="620" y="290" font-size="142" transform="rotate(-1.5 620 290)" textLength="620" lengthAdjust="spacingAndGlyphs" style="stroke:#000;stroke-width:3px">SAENZ,</text>
<text x="125" y="407" font-size="94" transform="rotate(-0.9 125 407)" textLength="2005" lengthAdjust="spacingAndGlyphs" style="stroke:#000;stroke-width:2.8px">REGIONAL ADVISOR, BIOETHICS, PAN</text>
<text x="125" y="507" font-size="98" transform="rotate(-1.3 125 507)" textLength="2215" lengthAdjust="spacingAndGlyphs" style="stroke:#000;stroke-width:2.8px">AMERICAN HEALTH  ORGANIZATION, USA</text>
<text x="80" y="655" font-size="150" transform="rotate(-1.2 80 655)" textLength="660" lengthAdjust="spacingAndGlyphs" style="stroke:#000;stroke-width:3px">LUDOVIC</text>
<text x="850" y="640" font-size="150" transform="rotate(-1.2 850 640)" textLength="630" lengthAdjust="spacingAndGlyphs" style="stroke:#000;stroke-width:3px">REVEIZ,</text>
<text x="145" y="762" font-size="98" transform="rotate(-0.9 145 762)" textLength="2345" lengthAdjust="spacingAndGlyphs" style="stroke:#000;stroke-width:2.8px">REGIONAL ADVISOR, SCIENCE &amp; KNOWLEDGE</text>
<text x="150" y="872" font-size="99" transform="rotate(-1.1 150 872)" textLength="2395" lengthAdjust="spacingAndGlyphs" style="stroke:#000;stroke-width:2.8px">FOR ACTION UNIT, EVIDENCE &amp; INTELLIGENCE</text>
<text x="150" y="962" font-size="99" transform="rotate(-0.9 150 962)" textLength="2100" lengthAdjust="spacingAndGlyphs" style="stroke:#000;stroke-width:2.8px">FOR ACTION IN HEALTH DEPARTMENT,</text>
<text x="150" y="1072" font-size="101" transform="rotate(-1.4 150 1072)" textLength="2360" lengthAdjust="spacingAndGlyphs" style="stroke:#000;stroke-width:2.8px">PAN AMERICAN  HEALTH ORGANIZATION, USA</text>
<text x="95" y="1278" font-size="155" transform="rotate(-2.3 95 1278)" textLength="965" lengthAdjust="spacingAndGlyphs" style="stroke:#000;stroke-width:3px">MARITH VOLP,</text>
<text x="195" y="1368" font-size="101" transform="rotate(-1.1 195 1368)" textLength="2225" lengthAdjust="spacingAndGlyphs" style="stroke:#000;stroke-width:2.8px">DIRECTOR OF PUBLIC HEALTH &amp; HEALTH</text>
<text x="215" y="1462" font-size="99" transform="rotate(-1.1 215 1462)" textLength="2295" lengthAdjust="spacingAndGlyphs" style="stroke:#000;stroke-width:2.8px">SERVICES, NATIONAL INSTITUTE FOR PUBLIC</text>
</g>
<g transform="translate(2560 720) scale(0.49689)">
<text x="200" y="117" font-size="98" transform="rotate(-1.4 200 117)" textLength="2120" lengthAdjust="spacingAndGlyphs" style="stroke:#000;stroke-width:2.8px">HEALTH &amp; THE ENVIRONMENT ( RIVM),</text>
<text x="220" y="217" font-size="99" transform="rotate(-1.7 220 217)" textLength="1845" lengthAdjust="spacingAndGlyphs" style="stroke:#000;stroke-width:2.8px">KINGDOM OF THE NETHERLANDS</text>
<text x="120" y="378" font-size="150" transform="rotate(-2.3 120 378)" textLength="1130" lengthAdjust="spacingAndGlyphs" style="stroke:#000;stroke-width:3px">MEHDI SNENE,</text>
<text x="260" y="467" font-size="103" transform="rotate(-1.7 260 467)" textLength="2230" lengthAdjust="spacingAndGlyphs" style="stroke:#000;stroke-width:2.8px">CHIEF AI OFFICER,  THE INTERNATIONAL</text>
<text x="275" y="582" font-size="109" transform="rotate(-1.9 275 582)" textLength="1820" lengthAdjust="spacingAndGlyphs" style="stroke:#000;stroke-width:2.8px">DIGITAL HEALTH &amp; AI RESEARCH</text>
<text x="270" y="697" font-size="109" transform="rotate(-1.4 270 697)" textLength="2250" lengthAdjust="spacingAndGlyphs" style="stroke:#000;stroke-width:2.8px">COLLABORATIVE (I-DAIR), SWITZERLAND</text>
<text x="165" y="848" font-size="148" transform="rotate(-1.8 165 848)" textLength="1265" lengthAdjust="spacingAndGlyphs" style="stroke:#000;stroke-width:3px">JULIAN ELLIOTT,</text>
<text x="310" y="952" font-size="103" transform="rotate(-1.8 310 952)" textLength="2120" lengthAdjust="spacingAndGlyphs" style="stroke:#000;stroke-width:2.8px">PROFESSOR, SCHOOL OF PUBLIC HEALTH</text>
<text x="310" y="1062" font-size="103" transform="rotate(-2 310 1062)" textLength="2020" lengthAdjust="spacingAndGlyphs" style="stroke:#000;stroke-width:2.8px">&amp; PREVENTATIVE MEDICINE, MONASH</text>
<text x="325" y="1177" font-size="109" transform="rotate(-2 325 1177)" textLength="2150" lengthAdjust="spacingAndGlyphs" style="stroke:#000;stroke-width:2.8px">UNIVERSITY &amp; CEO FUTURE EVIDENCE</text>
<text x="335" y="1297" font-size="109" transform="rotate(-1.7 335 1297)" textLength="1375" lengthAdjust="spacingAndGlyphs" style="stroke:#000;stroke-width:2.8px">FOUNDATION,  AUSTRALIA</text>
</g>
<g transform="translate(2560 1440) scale(0.49689)">
<text x="200" y="8" font-size="150" transform="rotate(-1.9 200 8)" textLength="1320" lengthAdjust="spacingAndGlyphs" style="stroke:#000;stroke-width:3px">EDUARDO COELHO,</text>
<text x="315" y="107" font-size="103" transform="rotate(-2.1 315 107)" textLength="1865" lengthAdjust="spacingAndGlyphs" style="stroke:#000;stroke-width:2.8px">ASSOCIATE  PROFESSOR, RIBEIRAO</text>
<text x="310" y="237" font-size="103" transform="rotate(-2.7 310 237)" textLength="2090" lengthAdjust="spacingAndGlyphs" style="stroke:#000;stroke-width:2.8px">PRETO MEDICAL SCHOOL, UNIVERSITY OF</text>
<text x="320" y="337" font-size="109" transform="rotate(-2.7 320 337)" textLength="1070" lengthAdjust="spacingAndGlyphs" style="stroke:#000;stroke-width:2.8px">SAO PAULO, BRAZIL</text>
<text x="1130" y="412" font-size="112" transform="rotate(-2.2 1130 412)" textLength="670" lengthAdjust="spacingAndGlyphs" style="stroke:#000;stroke-width:3px">WE NEED TO</text>
<text x="1145" y="557" font-size="132" transform="rotate(-3 1145 557)" textLength="690" lengthAdjust="spacingAndGlyphs" style="font-style:italic;stroke:#000;stroke-width:6px">STRENGTHEN</text>
<text x="1135" y="687" font-size="112" transform="rotate(-4 1135 687)" textLength="645" lengthAdjust="spacingAndGlyphs" style="stroke:#000;stroke-width:3px">EVIDENCE</text>
<text x="1170" y="812" font-size="116" transform="rotate(-3.5 1170 812)" textLength="660" lengthAdjust="spacingAndGlyphs" style="stroke:#000;stroke-width:3px">SYSTEMS!</text>
</g>
<!-- p06_row -->
<g transform="translate(0 720) scale(0.49689)">
<path d="M960,715 L100,765 C80,775 75,820 76,860 L80,1150 C85,1210 105,1238 135,1240 L915,1210" fill="none" stroke="#000" stroke-width="13.4" />
<path d="M1395,715 L1700,695" fill="none" stroke="#000" stroke-width="13.4" />
<path d="M2330,665 L2690,655" fill="none" stroke="#000" stroke-width="13.4" />
<path d="M1515,1180 L1720,1160" fill="none" stroke="#000" stroke-width="13.4" />
<path d="M2370,1125 L2600,1118" fill="none" stroke="#000" stroke-width="13.4" />
<text x="185" y="915" font-size="138" transform="rotate(-4 185 915)" textLength="550" lengthAdjust="spacingAndGlyphs" style="stroke:#000;stroke-width:2.8px">GENERAL</text>
<text x="185" y="1030" font-size="125" transform="rotate(-2.5 185 1030)" textLength="575" lengthAdjust="spacingAndGlyphs" style="stroke:#000;stroke-width:2.8px">FORESIGHT</text>
<text x="190" y="1145" font-size="130" transform="rotate(-4.5 190 1145)" textLength="600" lengthAdjust="spacingAndGlyphs" style="stroke:#000;stroke-width:2.8px">APPROACH...</text>
<path d="M860,1000 C860,840 990,715 1160,712 C1350,712 1480,840 1482,990 C1485,1160 1350,1290 1180,1290 C990,1290 860,1160 860,1000 Z" fill="#8fd3c0" stroke="#000" stroke-width="14.6" />
<text x="995" y="895" font-size="100" transform="rotate(-5 995 895)" textLength="280" lengthAdjust="spacingAndGlyphs" style="stroke:#000;stroke-width:2.8px">WHAT</text>
<text x="965" y="995" font-size="118" transform="rotate(-6 965 995)" textLength="400" lengthAdjust="spacingAndGlyphs" style="stroke:#000;stroke-width:2.8px">FUTURE</text>
<text x="985" y="1080" font-size="95" transform="rotate(-5 985 1080)" textLength="360" lengthAdjust="spacingAndGlyphs" style="stroke:#000;stroke-width:2.8px">ARE WE</text>
<text x="985" y="1185" font-size="115" transform="rotate(-7 985 1185)" textLength="410" lengthAdjust="spacingAndGlyphs" style="stroke:#000;stroke-width:2.8px">FACING?</text>
<path d="M1485,893 L1580,885 L1568,828 L1695,932 L1585,1072 L1590,1008 L1500,1018 Z" fill="#22a780" stroke="#000" stroke-width="13.4" />
<path d="M2385,800 L2540,782 L2530,728 L2698,850 L2542,992 L2545,935 L2390,922 Z" fill="#22a780" stroke="#000" stroke-width="13.4" />
<path d="M1655,950 C1650,790 1820,680 2030,680 C2250,680 2400,790 2400,930 C2400,1090 2240,1205 2040,1205 C1820,1205 1660,1100 1655,950 Z" fill="#8fd3c0" stroke="#000" stroke-width="14.6" />
<text x="1740" y="860" font-size="108" transform="rotate(-5.5 1740 860)" textLength="545" lengthAdjust="spacingAndGlyphs" style="stroke:#000;stroke-width:2.8px">IMPORTANT</text>
<text x="1720" y="1005" font-size="112" transform="rotate(-4.5 1720 1005)" textLength="700" lengthAdjust="spacingAndGlyphs" style="stroke:#000;stroke-width:2.8px">CHALLENGES?</text>
</g>
<g transform="translate(1280 720) scale(0.49689)">
<path d="M0,1106 L780,1078 C800,1060 808,1020 805,980 C800,850 790,740 770,690 C760,660 750,652 735,650 L555,635" fill="none" stroke="#000" stroke-width="13.4" />
<path d="M805,1030 L850,1018" fill="none" stroke="#000" stroke-width="13.4" />
<path d="M50,870 C45,740 180,640 350,640 C530,640 655,740 655,860 C655,990 520,1075 350,1075 C170,1075 55,990 50,870 Z" fill="#8fd3c0" stroke="#000" stroke-width="14.6" />
<text x="170" y="795" font-size="106" transform="rotate(-4.5 170 795)" textLength="380" lengthAdjust="spacingAndGlyphs" style="stroke:#000;stroke-width:2.8px">OPTIONS</text>
<text x="255" y="882" font-size="85" transform="rotate(-5 255 882)" textLength="175" lengthAdjust="spacingAndGlyphs" style="stroke:#000;stroke-width:2.8px">FOR</text>
<text x="180" y="1000" font-size="110" transform="rotate(-6.5 180 1000)" textLength="395" lengthAdjust="spacingAndGlyphs" style="stroke:#000;stroke-width:2.8px">ACTION?</text>
<path d="M840,655 L1395,640 L1390,590 L1612,860 L1375,1137 L1365,1045 L880,1085 Z" fill="#8fd3c0" stroke="#000" stroke-width="14.6" />
<text x="895" y="825" font-size="142" transform="rotate(-5 895 825)" textLength="525" lengthAdjust="spacingAndGlyphs" style="stroke:#000;stroke-width:2.8px">LESSONS</text>
<text x="920" y="975" font-size="136" transform="rotate(-2.5 920 975)" textLength="570" lengthAdjust="spacingAndGlyphs" style="stroke:#000;stroke-width:2.8px">LEARNED...</text>
</g>
<g transform="translate(1960 980) scale(0.28727)">
<path d="M195,215 C198,130 210,100 260,97 L900,105 L2100,48 C2200,50 2260,150 2295,290 C2310,400 2290,500 2280,600" fill="none" stroke="#000" stroke-width="22.4" />
<path d="M215,985 C220,1150 290,1270 450,1280 L2130,1250 C2170,1240 2185,1190 2187,1140" fill="none" stroke="#000" stroke-width="22.4" />
<path d="M2235,-278 C2260,-150 2270,0 2235,105" fill="none" stroke="#000" stroke-width="12.3" />
<ellipse cx="350" cy="270" rx="90" ry="90" fill="#8fd3c0"/>
<ellipse cx="360" cy="265" rx="20" ry="28" fill="#22a780" stroke="#000" stroke-width="15.7"/>
<ellipse cx="498" cy="530" rx="74" ry="74" fill="#8fd3c0"/>
<ellipse cx="508" cy="525" rx="18" ry="30" fill="#22a780" stroke="#000" stroke-width="15.7"/>
<ellipse cx="345" cy="930" rx="90" ry="90" fill="#8fd3c0"/>
<ellipse cx="355" cy="925" rx="30" ry="38" fill="#22a780" stroke="#000" stroke-width="15.7"/>
<text x="460" y="333" font-size="180" transform="rotate(-3.5 460 333)" textLength="755" lengthAdjust="spacingAndGlyphs" style="stroke:#000;stroke-width:4.9px">SUPPORT</text>
<text x="1360" y="308" font-size="225" transform="rotate(-7 1360 308)" textLength="510" lengthAdjust="spacingAndGlyphs" style="stroke:#000;stroke-width:4.9px">EIP!</text>
<text x="610" y="568" font-size="178" transform="rotate(-4.8 610 568)" textLength="1340" lengthAdjust="spacingAndGlyphs" style="stroke:#000;stroke-width:4.9px">ACCOUNT FOR</text>
<text x="680" y="733" font-size="160" transform="rotate(-3.6 680 733)" textLength="1400" lengthAdjust="spacingAndGlyphs" style="stroke:#000;stroke-width:4.9px">UNCERTAINTY!</text>
<text x="530" y="968" font-size="165" transform="rotate(-3.4 530 968)" textLength="1735" lengthAdjust="spacingAndGlyphs" style="stroke:#000;stroke-width:4.9px">IT&#x27;S STILL EARLY</text>
<text x="595" y="1172" font-size="172" transform="rotate(-3.5 595 1172)" textLength="1845" lengthAdjust="spacingAndGlyphs" style="stroke:#000;stroke-width:4.9px">DAYS...JOIN FORCES!</text>
</g>
<!-- p07_julian -->
<g transform="translate(0 1320) scale(0.49689)">
<path d="M100,400 L220,380 L300,350 L470,333 L1100,338 L1155,1010 L125,1025 Z" fill="#8fd3c0" />
<path d="M185,385 L95,400 L125,1025 L1155,1010 L1105,350 L1090,340 L420,345" fill="none" stroke="#000" stroke-width="16.8" />
<path d="M60,190 C55,110 90,80 160,78 L540,72 C610,70 640,110 640,180 C640,260 610,285 540,290 L255,300 L222,412 L205,302 L150,300 C90,298 62,260 60,190 Z" fill="#fff" stroke="#000" stroke-width="14.6" />
<text x="140" y="250" font-size="122" transform="rotate(-5 140 250)" textLength="390" lengthAdjust="spacingAndGlyphs" style="stroke:#000;stroke-width:2.8px">JULIAN</text>
<text x="335" y="480" font-size="120" transform="rotate(-4.5 335 480)" textLength="565" lengthAdjust="spacingAndGlyphs" style="stroke:#000;stroke-width:2.8px">HOW WILL</text>
<text x="210" y="640" font-size="122" transform="rotate(-2 210 640)" textLength="190" lengthAdjust="spacingAndGlyphs" style="stroke:#000;stroke-width:2.8px">A.I.</text>
<path d="M300,640 L395,632" fill="none" stroke="#000" stroke-width="11.2" />
<text x="450" y="622" font-size="122" transform="rotate(-3 450 622)" textLength="460" lengthAdjust="spacingAndGlyphs" style="stroke:#000;stroke-width:2.8px">CHANGE</text>
<text x="215" y="775" font-size="120" transform="rotate(-5 215 775)" textLength="615" lengthAdjust="spacingAndGlyphs" style="stroke:#000;stroke-width:2.8px">EVIDENCE-</text>
<text x="280" y="880" font-size="116" transform="rotate(-5 280 880)" textLength="550" lengthAdjust="spacingAndGlyphs" style="stroke:#000;stroke-width:2.8px">INFORMED</text>
<text x="210" y="985" font-size="116" transform="rotate(-2.5 210 985)" textLength="850" lengthAdjust="spacingAndGlyphs" style="stroke:#000;stroke-width:2.8px">POLICY-MAKING?</text>
<text x="1185" y="207" font-size="125" transform="rotate(-3.5 1185 207)" textLength="745" lengthAdjust="spacingAndGlyphs" style="stroke:#000;stroke-width:2.8px">WE WILL SEE</text>
<text x="1190" y="367" font-size="140" transform="rotate(-6.5 1190 367)" textLength="570" lengthAdjust="spacingAndGlyphs" style="stroke:#000;stroke-width:2.8px">AI- DRIVEN</text>
<text x="1170" y="522" font-size="105" transform="rotate(-7 1170 522)" textLength="650" lengthAdjust="spacingAndGlyphs" style="stroke:#000;stroke-width:2.8px">ACCELLERATION</text>
<text x="1215" y="642" font-size="115" transform="rotate(-4.5 1215 642)" textLength="515" lengthAdjust="spacingAndGlyphs" style="stroke:#000;stroke-width:2.8px">THROUGHOUT</text>
<text x="1340" y="767" font-size="110" transform="rotate(-6 1340 767)" textLength="180" lengthAdjust="spacingAndGlyphs" style="stroke:#000;stroke-width:2.8px">THE</text>
<text x="1205" y="907" font-size="135" transform="rotate(-6 1205 907)" textLength="485" lengthAdjust="spacingAndGlyphs" style="stroke:#000;stroke-width:2.8px">EVIDENCE</text>
<text x="1195" y="1092" font-size="140" transform="rotate(-1.5 1195 1092)" textLength="575" lengthAdjust="spacingAndGlyphs" style="stroke:#000;stroke-width:2.8px">ECOSYSTEM</text>
</g>
<g transform="translate(0 1440) scale(0.49689)">
<rect x="122" y="828" width="922" height="506" rx="85" ry="85" fill="#fff" stroke="#2ba884" stroke-width="6"/>
<clipPath id="whoclip"><rect x="125" y="831" width="916" height="500" rx="82" ry="82"/></clipPath>
<g clip-path="url(#whoclip)">
<path d="M515,1345 C521,1328 485,1314 540,1314 C635,1315 670,1330 679,1345" fill="none" stroke="#cfcfcf" stroke-width="3" />
<path d="M496,1345 C504,1321 478,1300 540,1301 C642,1302 683,1324 696,1345" fill="none" stroke="#cfcfcf" stroke-width="3" />
<path d="M476,1345 C487,1314 472,1286 540,1288 C648,1289 696,1317 713,1345" fill="none" stroke="#cfcfcf" stroke-width="3" />
<path d="M456,1345 C470,1307 466,1273 540,1275 C654,1276 709,1310 730,1345" fill="none" stroke="#cfcfcf" stroke-width="3" />
<path d="M437,1345 C453,1300 459,1259 540,1261 C661,1263 722,1304 747,1345" fill="none" stroke="#cfcfcf" stroke-width="3" />
<path d="M418,1345 C436,1293 452,1245 540,1248 C668,1250 735,1298 764,1345" fill="none" stroke="#cfcfcf" stroke-width="3" />
<path d="M398,1345 C420,1286 446,1232 540,1235 C674,1237 748,1291 780,1345" fill="none" stroke="#cfcfcf" stroke-width="3" />
<path d="M378,1345 C403,1278 440,1218 540,1222 C680,1224 761,1284 797,1345" fill="none" stroke="#cfcfcf" stroke-width="3" />
<path d="M359,1345 C386,1271 433,1204 540,1208 C687,1211 774,1278 814,1345" fill="none" stroke="#cfcfcf" stroke-width="3" />
<path d="M340,1345 C369,1264 426,1191 540,1195 C694,1198 787,1272 831,1345" fill="none" stroke="#cfcfcf" stroke-width="3" />
<path d="M320,1345 C352,1257 420,1177 540,1182 C700,1185 800,1265 848,1345" fill="none" stroke="#cfcfcf" stroke-width="3" />
<path d="M300,1345 C335,1250 414,1163 540,1169 C706,1172 813,1258 865,1345" fill="none" stroke="#cfcfcf" stroke-width="3" />
<path d="M281,1345 C318,1243 407,1150 540,1155 C713,1159 826,1252 882,1345" fill="none" stroke="#cfcfcf" stroke-width="3" />
<path d="M262,1345 C301,1236 400,1136 540,1142 C720,1146 839,1246 899,1345" fill="none" stroke="#cfcfcf" stroke-width="3" />
<path d="M242,1345 C284,1228 394,1122 540,1129 C726,1133 852,1239 916,1345" fill="none" stroke="#cfcfcf" stroke-width="3" />
<path d="M222,1345 C268,1221 388,1109 540,1116 C732,1120 865,1232 932,1345" fill="none" stroke="#cfcfcf" stroke-width="3" />
<path d="M203,1345 C251,1214 381,1095 540,1102 C739,1107 878,1226 949,1345" fill="none" stroke="#cfcfcf" stroke-width="3" />
<path d="M184,1345 C234,1207 374,1081 540,1089 C746,1094 891,1220 966,1345" fill="none" stroke="#cfcfcf" stroke-width="3" />
<path d="M164,1345 C217,1200 368,1068 540,1076 C752,1081 904,1213 983,1345" fill="none" stroke="#cfcfcf" stroke-width="3" />
</g>
<rect x="112" y="815" width="115" height="100" fill="#fff"/>
<text x="112" y="1003" font-size="245" font-weight="700" fill="#2ba884" style="stroke:#2ba884;stroke-width:2.8px">“</text>
<text x="250" y="950" font-size="108" textLength="720" lengthAdjust="spacingAndGlyphs" font-weight="700" fill="#0c3c60" style="stroke:#0c3c60;stroke-width:3px">WHO GLOBAL</text>
<text x="195" y="1035" font-size="78" textLength="775" lengthAdjust="spacingAndGlyphs" font-weight="700" fill="#2ba884" style="stroke:#2ba884;stroke-width:2px">EVIDENCE-TO-POLICY</text>
<text x="195" y="1145" font-size="108" textLength="760" lengthAdjust="spacingAndGlyphs" font-weight="700" fill="#0c3c60" style="stroke:#0c3c60;stroke-width:3px">(E2P) SUMMIT</text>
<text x="200" y="1240" font-size="86" textLength="315" lengthAdjust="spacingAndGlyphs" font-weight="700" fill="#2ba884" style="stroke:#2ba884;stroke-width:2px">29–31</text>
<text x="205" y="1292" font-size="52" textLength="310" lengthAdjust="spacingAndGlyphs" font-weight="700" fill="#0c3c60" style="stroke:#0c3c60;stroke-width:2.8px">AUGUST</text>
<text x="565" y="1290" font-size="155" textLength="385" lengthAdjust="spacingAndGlyphs" font-weight="700" fill="#0c3c60" style="stroke:#0c3c60;stroke-width:5px">2023</text>
</g>
<!-- p08_cycle -->
<path d="M1061.0,1419.1 A343.0,343.0 0 0 1 1337.6,1399.1 L1337.7,1380.0 L1376.0,1432.4 L1318.5,1436.9 L1329.5,1421.7 A319.0,319.0 0 0 0 1072.2,1440.3 Z" fill="#22a780" stroke="#000" stroke-width="6.7" />
<path d="M1403.8,1431.1 A343.0,343.0 0 0 1 1560.5,1666.5 L1577.2,1657.4 L1550.0,1716.3 L1518.1,1668.1 L1536.8,1670.4 A319.0,319.0 0 0 0 1391.0,1451.5 Z" fill="#22a780" stroke="#000" stroke-width="6.7" />
<path d="M1564.2,1745.9 A343.0,343.0 0 0 1 1434.6,1991.1 L1450.7,2001.3 L1386.0,2006.1 L1412.7,1954.9 L1419.7,1972.3 A319.0,319.0 0 0 0 1540.2,1744.3 Z" fill="#22a780" stroke="#000" stroke-width="6.7" />
<path d="M1372.4,2030.3 A343.0,343.0 0 0 1 1106.4,2044.9 L1106.3,2064.0 L1068.0,2011.6 L1125.5,2007.1 L1114.5,2022.3 A319.0,319.0 0 0 0 1361.8,2008.7 Z" fill="#22a780" stroke="#000" stroke-width="6.7" />
<path d="M1040.2,2012.9 A343.0,343.0 0 0 1 884.5,1783.4 L868.0,1792.8 L894.2,1733.4 L926.8,1781.0 L908.1,1779.1 A319.0,319.0 0 0 0 1053.0,1992.5 Z" fill="#22a780" stroke="#000" stroke-width="6.7" />
<path d="M879.5,1704.0 A343.0,343.0 0 0 1 995.6,1464.4 L979.0,1455.0 L1043.4,1446.9 L1019.4,1499.4 L1011.4,1482.4 A319.0,319.0 0 0 0 903.4,1705.3 Z" fill="#22a780" stroke="#000" stroke-width="6.7" />
<ellipse cx="1222" cy="1722" rx="125" ry="124" fill="#8fd3c0" stroke="#000" stroke-width="7.8"/>
<ellipse cx="1224" cy="1500" rx="85" ry="85" fill="#8fd3c0" stroke="#000" stroke-width="7.8"/>
<ellipse cx="1414" cy="1624" rx="83" ry="83" fill="#8fd3c0" stroke="#000" stroke-width="7.8"/>
<ellipse cx="1409" cy="1841" rx="85" ry="85" fill="#8fd3c0" stroke="#000" stroke-width="7.8"/>
<ellipse cx="1215" cy="1947" rx="88" ry="88" fill="#8fd3c0" stroke="#000" stroke-width="7.8"/>
<ellipse cx="1024" cy="1832" rx="80" ry="80" fill="#8fd3c0" stroke="#000" stroke-width="7.8"/>
<ellipse cx="1024" cy="1609" rx="82" ry="82" fill="#8fd3c0" stroke="#000" stroke-width="7.8"/>
<g transform="translate(1000 1360) scale(0.51760)">
<text x="310" y="297" font-size="90" transform="rotate(-3 310 297)" textLength="220" lengthAdjust="spacingAndGlyphs" style="stroke:#000;stroke-width:2.7px">TOOLS</text>
<text x="615" y="487" font-size="86" transform="rotate(-4 615 487)" textLength="330" lengthAdjust="spacingAndGlyphs" style="stroke:#000;stroke-width:2.7px">METHOD</text>
<text x="670" y="557" font-size="84" transform="rotate(-4 670 557)" textLength="275" lengthAdjust="spacingAndGlyphs" style="stroke:#000;stroke-width:2.7px">-OLOGY</text>
<text x="300" y="722" font-size="125" transform="rotate(-2 300 722)" textLength="250" lengthAdjust="spacingAndGlyphs" style="stroke:#000;stroke-width:2.7px">DATA</text>
<text x="615" y="947" font-size="96" transform="rotate(-4 615 947)" textLength="335" lengthAdjust="spacingAndGlyphs" style="stroke:#000;stroke-width:2.7px">CULTURE</text>
<text x="225" y="1162" font-size="96" transform="rotate(-5 225 1162)" textLength="405" lengthAdjust="spacingAndGlyphs" style="stroke:#000;stroke-width:2.7px">STANDARDS</text>
</g>
<text x="934" y="1843" font-size="49" transform="rotate(-4 934 1843)" textLength="162" lengthAdjust="spacingAndGlyphs" style="stroke:#000;stroke-width:1.4px">SUPPORT</text>
<text x="929" y="1619" font-size="46" transform="rotate(-4 929 1619)" textLength="189" lengthAdjust="spacingAndGlyphs" style="stroke:#000;stroke-width:1.4px">EVIDENCE</text>
<!-- p09_burst -->
<g transform="translate(1480 1260) scale(0.49689)">
<path d="M195,48 Q300,115 378,45 Q445,108 525,25 Q585,100 655,40 Q735,112 825,12 Q850,120 950,100 Q880,190 1020,240 Q840,360 950,485 Q890,540 965,600 Q860,700 985,790 Q900,880 1060,950 Q990,1060 1115,1160 Q960,1185 1000,1290 Q940,1235 890,1340 Q845,1255 840,1378 Q760,1295 580,1400 Q560,1305 415,1372 Q400,1285 255,1322 Q290,1215 190,1150 Q275,1070 225,985 Q270,870 155,775 Q245,700 150,625 Q210,570 110,520 Q230,430 145,340 Q220,250 95,165 Q240,120 195,48 Z" fill="#f9d60d" stroke="#000" stroke-width="10.1" />
<text x="305" y="242" font-size="135" transform="rotate(-7 305 242)" textLength="100" lengthAdjust="spacingAndGlyphs" style="stroke:#000;stroke-width:3px">A</text>
<path d="M455,125 L462,228 M420,130 L492,120 M427,234 L500,222" fill="none" stroke="#000" stroke-width="15.7" />
<text x="540" y="217" font-size="86" transform="rotate(-5 540 217)" textLength="260" lengthAdjust="spacingAndGlyphs" style="stroke:#000;stroke-width:3px">WILL</text>
<text x="285" y="382" font-size="150" transform="rotate(-3.2 285 382)" textLength="545" lengthAdjust="spacingAndGlyphs" style="stroke:#000;stroke-width:3px">DISRUPT</text>
<text x="325" y="517" font-size="125" transform="rotate(-3.5 325 517)" textLength="340" lengthAdjust="spacingAndGlyphs" style="stroke:#000;stroke-width:3px">BOTH</text>
<text x="280" y="672" font-size="140" transform="rotate(-5.8 280 672)" textLength="600" lengthAdjust="spacingAndGlyphs" style="stroke:#000;stroke-width:3px">ACCURACY</text>
<text x="460" y="757" font-size="78" transform="rotate(-6 460 757)" textLength="205" lengthAdjust="spacingAndGlyphs" style="stroke:#000;stroke-width:3px">AND</text>
<text x="330" y="892" font-size="130" transform="rotate(-4.5 330 892)" textLength="540" lengthAdjust="spacingAndGlyphs" style="stroke:#000;stroke-width:3px">&#x27;QUICK &amp;</text>
<text x="380" y="1037" font-size="135" transform="rotate(-7 380 1037)" textLength="420" lengthAdjust="spacingAndGlyphs" style="stroke:#000;stroke-width:3px">DIRTY&#x27;</text>
<text x="330" y="1192" font-size="135" transform="rotate(-7 330 1192)" textLength="610" lengthAdjust="spacingAndGlyphs" style="stroke:#000;stroke-width:3px">EVIDENCE!</text>
</g>
<!-- p10_conv -->
<g transform="translate(1940 1380) scale(0.31058)">
<path d="M665,505 L615,95 L2215,0 L2275,870 L2305,1215 L765,1335 L715,870 L565,850 L710,795 L700,740 Z" fill="#fff" />
<path d="M665,505 L615,95 L2215,0 C2240,300 2260,600 2275,870" fill="none" stroke="#000" stroke-width="24.6" />
<path d="M2300,1140 L2305,1215 L765,1335 L715,870 L565,850 L710,795 L700,740" fill="none" stroke="#000" stroke-width="24.6" />
<text x="815" y="292" font-size="165" transform="rotate(-2.4 815 292)" textLength="1305" lengthAdjust="spacingAndGlyphs" style="stroke:#000;stroke-width:4.5px">CONVERSATIONAL</text>
<text x="840" y="532" font-size="205" transform="rotate(-3 840 532)" textLength="140" lengthAdjust="spacingAndGlyphs" style="stroke:#000;stroke-width:7px">A</text>
<path d="M1048,395 L1056,520 M995,400 L1102,390 M1000,527 L1108,515" fill="none" stroke="#000" stroke-width="28.0" />
<text x="1110" y="520" font-size="120" transform="rotate(-3 1110 520)" textLength="75" lengthAdjust="spacingAndGlyphs" style="stroke:#000;stroke-width:4.5px">S</text>
<text x="1310" y="512" font-size="145" transform="rotate(-4.5 1310 512)" textLength="540" lengthAdjust="spacingAndGlyphs" style="stroke:#000;stroke-width:4.5px">ARE A</text>
<text x="850" y="765" font-size="235" transform="rotate(-4 850 765)" textLength="470" lengthAdjust="spacingAndGlyphs" style="stroke:#000;stroke-width:8px">NEW</text>
<text x="1420" y="735" font-size="235" transform="rotate(-4 1420 735)" textLength="660" lengthAdjust="spacingAndGlyphs" style="stroke:#000;stroke-width:8px">FORM</text>
<text x="885" y="978" font-size="125" transform="rotate(-5 885 978)" textLength="165" lengthAdjust="spacingAndGlyphs" style="stroke:#000;stroke-width:4.5px">OF</text>
<text x="1130" y="962" font-size="190" transform="rotate(-4 1130 962)" textLength="560" lengthAdjust="spacingAndGlyphs" style="stroke:#000;stroke-width:4.5px">&#x27;QUICK</text>
<text x="1790" y="915" font-size="190" transform="rotate(-4 1790 915)" textLength="160" lengthAdjust="spacingAndGlyphs" style="stroke:#000;stroke-width:4.5px">&amp;</text>
<text x="900" y="1198" font-size="190" transform="rotate(-5.5 900 1198)" textLength="490" lengthAdjust="spacingAndGlyphs" style="stroke:#000;stroke-width:4.5px">DIRTY&#x27;</text>
<text x="1430" y="1163" font-size="180" transform="rotate(-7 1430 1163)" textLength="900" lengthAdjust="spacingAndGlyphs" style="stroke:#000;stroke-width:4.5px">EVIDENCE!</text>
<ellipse cx="138" cy="235" rx="95" ry="95" fill="#8fd3c0"/>
<path d="M165,270 L212,348" fill="none" stroke="#000" stroke-width="15.7" />
<ellipse cx="150" cy="235" rx="28" ry="38" fill="#22a780" stroke="#000" stroke-width="15.7" transform="rotate(35 150 235)"/>
<path d="M200,762 L258,722" fill="none" stroke="#000" stroke-width="17.9" />
<ellipse cx="155" cy="775" rx="38" ry="80" fill="#a3a3a3" stroke="#000" stroke-width="17.9" transform="rotate(-14 155 775)"/>
<ellipse cx="150" cy="770" rx="10" ry="45" fill="#fff" transform="rotate(-14 150 770)"/>
<path d="M215,600 C250,650 265,700 270,760 L290,1008 L610,965 L592,905 L520,910 L505,790 L565,785 L560,740 L470,715 L450,610 L520,545 L470,430 Z" fill="#a3a3a3" stroke="#000" stroke-width="20.2" />
<path d="M230,610 C275,680 290,730 300,800 C310,760 300,690 280,600 Z" fill="#707070" />
<path d="M160,525 C110,420 180,330 290,325 C370,322 420,345 445,380 Z" fill="#a3a3a3" stroke="#000" stroke-width="20.2" />
<path d="M290,350 C330,345 370,355 395,375" fill="none" stroke="#fff" stroke-width="14" />
<path d="M120,575 L475,355 L505,405 L150,628 Z" fill="#a3a3a3" stroke="#000" stroke-width="20.2" />
<ellipse cx="388" cy="552" rx="13" ry="18" fill="#000"/>
<ellipse cx="452" cy="520" rx="13" ry="18" fill="#000"/>
<path d="M378,795 L505,785 L522,915 L398,932 Z" fill="#fff" stroke="#000" stroke-width="17.9" />
<path d="M395,880 L425,810 L440,870 L470,820 L500,865" fill="none" stroke="#000" stroke-width="10.1" />
<path d="M445,610 C445,580 470,570 520,565 L640,555 C700,552 725,575 715,625 C705,680 640,715 560,735 C500,745 465,730 460,700 Z" fill="#a3a3a3" stroke="#000" stroke-width="20.2" />
<path d="M650,575 C665,610 668,640 660,670" fill="none" stroke="#000" stroke-width="11.2" />
<path d="M520,590 C560,580 600,578 630,580" fill="none" stroke="#fff" stroke-width="12" />
<ellipse cx="570" cy="945" rx="12" ry="14" fill="#fff"/>
</g>
<!-- p11_news -->
<g transform="translate(2540 1600) scale(0.37267)">
<path d="M190,650 C60,690 40,800 170,870" fill="none" stroke="#000" stroke-width="73.9" style="stroke-linecap:butt"/>
<path d="M190,650 C60,690 40,800 170,870" fill="none" stroke="#a3a3a3" stroke-width="40" style="stroke-linecap:butt"/>
<path d="M190,650 C60,690 40,800 170,870" fill="none" stroke="#707070" stroke-width="40" stroke-dasharray="14 22" style="stroke-linecap:butt"/>
<path d="M1330,650 C1470,700 1470,850 1340,950" fill="none" stroke="#000" stroke-width="73.9" style="stroke-linecap:butt"/>
<path d="M1330,650 C1470,700 1470,850 1340,950" fill="none" stroke="#a3a3a3" stroke-width="40" style="stroke-linecap:butt"/>
<path d="M1330,650 C1470,700 1470,850 1340,950" fill="none" stroke="#707070" stroke-width="40" stroke-dasharray="14 22" style="stroke-linecap:butt"/>
<ellipse cx="718" cy="110" rx="88" ry="82" fill="#8fd3c0"/>
<path d="M722,135 L708,245" fill="none" stroke="#000" stroke-width="14.6" />
<path d="M695,100 C710,85 740,88 752,102 C745,125 730,135 720,135 C708,130 698,118 695,100 Z" fill="#22a780" stroke="#000" stroke-width="13.4" />
<path d="M555,545 L605,555" fill="none" stroke="#000" stroke-width="15.7" />
<path d="M525,478 C500,520 490,560 520,580 C550,580 560,540 525,478 Z" fill="#a3a3a3" stroke="#000" stroke-width="15.7" />
<path d="M880,500 L960,487" fill="none" stroke="#000" stroke-width="15.7" />
<path d="M940,440 C960,425 990,435 992,470 C995,500 975,515 955,505" fill="#a3a3a3" stroke="#000" stroke-width="15.7" />
<path d="M590,440 L610,660 L870,620 L875,430 Z" fill="#a3a3a3" stroke="#000" stroke-width="17.9" />
<path d="M810,440 L820,620 L868,612 L872,435 Z" fill="#707070" />
<path d="M612,470 L622,600" fill="none" stroke="#fff" stroke-width="10" />
<path d="M565,398 C580,300 640,250 720,248 C800,250 850,310 865,385 Z" fill="#a3a3a3" stroke="#000" stroke-width="17.9" />
<path d="M790,285 C820,305 840,340 850,380 L865,385 C850,320 830,290 800,270 Z" fill="#707070" />
<path d="M600,370 C610,320 640,290 670,275" fill="none" stroke="#fff" stroke-width="12" />
<path d="M530,405 L875,370 C892,380 892,400 885,412 L545,447 C525,440 522,420 530,405 Z" fill="#a3a3a3" stroke="#000" stroke-width="17.9" />
<path d="M560,425 L640,415" fill="none" stroke="#fff" stroke-width="9" />
<ellipse cx="672" cy="528" rx="11" ry="18" fill="#000"/>
<ellipse cx="738" cy="520" rx="11" ry="18" fill="#000"/>
<path d="M628,650 C630,600 670,575 700,578 C740,582 765,605 772,635 Z" fill="#a3a3a3" stroke="#000" stroke-width="15.7" />
<path d="M650,630 C655,605 680,592 700,595" fill="none" stroke="#fff" stroke-width="14" />
<path d="M140,570 L205,515 L690,665 Z" fill="#fff" stroke="#000" stroke-width="15.7" />
<path d="M710,660 L1240,430 L1250,505 Z" fill="#fff" stroke="#000" stroke-width="15.7" />
<path d="M360,580 L640,660 L600,630 Z" fill="#a3a3a3" />
<path d="M790,655 L1080,520 L1000,600 Z" fill="#a3a3a3" />
<path d="M140,570 L700,682 L1335,490 L1265,1245 L710,1400 L230,1272 Z" fill="#fff" stroke="#000" stroke-width="19.0" />
<path d="M700,760 L712,1335" fill="none" stroke="#000" stroke-width="9.0" />
<path d="M140,885 L255,895 L265,985 L155,1000 Z" fill="#707070" stroke="#000" stroke-width="17.9" />
<path d="M155,990 L270,985 L262,1055 L165,1058 Z" fill="#707070" stroke="#000" stroke-width="17.9" />
<path d="M160,885 L245,892 L240,915 L170,920 Z" fill="#fff" />
<path d="M205,1060 L230,1270" fill="none" stroke="#000" stroke-width="19.0" />
<path d="M1215,960 L1360,945 L1345,1050 L1225,1045 Z" fill="#707070" stroke="#000" stroke-width="17.9" />
<path d="M1225,1045 L1345,1040 L1335,1115 L1235,1122 Z" fill="#707070" stroke="#000" stroke-width="17.9" />
<path d="M1240,965 L1330,955 L1325,985 L1245,990 Z" fill="#a3a3a3" />
<path d="M1285,1110 L1270,1245" fill="none" stroke="#000" stroke-width="19.0" />
<text x="465" y="842" font-size="175" transform="rotate(-3 465 842)" textLength="145" lengthAdjust="spacingAndGlyphs" style="stroke:#000;stroke-width:4px">AI</text>
<text x="315" y="972" font-size="135" transform="rotate(5 315 972)" textLength="310" lengthAdjust="spacingAndGlyphs" style="stroke:#000;stroke-width:4px">ACCE</text>
<text x="335" y="1138" font-size="140" transform="rotate(6 335 1138)" textLength="325" lengthAdjust="spacingAndGlyphs" style="stroke:#000;stroke-width:4px">SYST</text>
<text x="425" y="1275" font-size="130" transform="rotate(8 425 1275)" textLength="230" lengthAdjust="spacingAndGlyphs" style="stroke:#000;stroke-width:4px">REV</text>
<text x="785" y="792" font-size="110" transform="rotate(-15 785 792)" textLength="310" lengthAdjust="spacingAndGlyphs" style="stroke:#000;stroke-width:4px">WILL</text>
<text x="725" y="1008" font-size="135" transform="rotate(-19.5 725 1008)" textLength="575" lengthAdjust="spacingAndGlyphs" style="stroke:#000;stroke-width:4px">LERATE</text>
<text x="745" y="1152" font-size="130" transform="rotate(-17 745 1152)" textLength="400" lengthAdjust="spacingAndGlyphs" style="stroke:#000;stroke-width:4px">EMIC</text>
<text x="750" y="1292" font-size="135" transform="rotate(-15 750 1292)" textLength="370" lengthAdjust="spacingAndGlyphs" style="stroke:#000;stroke-width:4px">IEW!</text>
</g>
<g transform="translate(3440 1500) scale(0.28986)">
<path d="M505,135 C340,170 280,300 430,400" fill="none" stroke="#000" stroke-width="132.2" style="stroke-linecap:butt"/>
<path d="M635,150 C800,200 790,370 560,400" fill="none" stroke="#000" stroke-width="132.2" style="stroke-linecap:butt"/>
<path d="M503,138 C340,172 282,300 432,398" fill="none" stroke="#a3a3a3" stroke-width="84" style="stroke-linecap:butt"/>
<path d="M636,153 C798,202 788,368 562,398" fill="none" stroke="#a3a3a3" stroke-width="84" style="stroke-linecap:butt"/>
<path d="M330,300 C340,360 400,400 440,410" fill="none" stroke="#707070" stroke-width="40" style="stroke-linecap:butt"/>
<path d="M730,330 C690,380 620,400 570,405" fill="none" stroke="#707070" stroke-width="40" style="stroke-linecap:butt"/>
<path d="M345,250 C360,200 400,175 440,165" fill="none" stroke="#fff" stroke-width="14" />
<path d="M690,200 C720,230 725,260 715,290" fill="none" stroke="#fff" stroke-width="14" />
<path d="M385,500 C300,650 270,850 360,1040 C400,1120 470,1190 540,1225 L560,980 C480,900 430,720 490,525 Z" fill="#a3a3a3" stroke="#000" stroke-width="20.2" />
<path d="M310,780 C310,900 380,1080 540,1215 L545,1150 C430,1060 360,920 350,790 Z" fill="#707070" />
<path d="M375,545 L470,565 M340,685 L440,680 M320,790 L440,760 M330,905 L440,850 M360,1020 L470,930" fill="none" stroke="#000" stroke-width="11.2" />
<path d="M355,600 L335,760" fill="none" stroke="#fff" stroke-width="12" />
<path d="M405,335 L555,370 L520,520 L360,485 Z" fill="#707070" stroke="#000" stroke-width="21.3" />
<path d="M425,355 L540,380 L525,440 L415,420 Z" fill="#a3a3a3" />
<path d="M440,365 L500,378 L495,395 L438,390 Z" fill="#fff" />
<path d="M500,1045 C600,900 740,810 880,800 C1020,800 1130,880 1160,990 L1120,1235 C1000,1280 760,1300 600,1250 C540,1225 500,1180 480,1130 Z" fill="#a3a3a3" stroke="#000" stroke-width="21.3" />
<path d="M520,1180 C700,1260 950,1240 1110,1160 L1120,1235 C1000,1280 760,1300 600,1250 Z" fill="#707070" />
<path d="M1030,880 C1100,920 1140,960 1155,1000 L1120,1230 L1030,1240 C1050,1100 1050,980 1030,880 Z" fill="#707070" />
<path d="M570,985 C530,1080 540,1160 575,1230 M745,845 C690,1000 680,1120 715,1250 M895,840 C860,1000 850,1120 875,1250 M1030,885 C1050,1000 1030,1130 1010,1225" fill="none" stroke="#000" stroke-width="11.2" />
<path d="M640,960 C700,880 780,850 840,845" fill="none" stroke="#fff" stroke-width="14" />
<path d="M1130,985 L1165,890 L1240,888 C1260,1000 1250,1200 1230,1310 L1090,1300 Z" fill="#a3a3a3" stroke="#000" stroke-width="21.3" />
<path d="M1185,910 L1160,1290" fill="none" stroke="#000" stroke-width="11.2" />
<path d="M1135,990 L1160,900 L1175,905 L1150,1290 L1100,1290 Z" fill="#707070" />
<path d="M795,530 L815,645 M620,655 C650,685 675,700 705,705 M1055,545 L985,660 M1190,710 L1135,760" fill="none" stroke="#000" stroke-width="13.4" />
</g>
<!-- p12_logos -->
<g transform="translate(1280 1440) scale(0.49689)">
<text x="455" y="1295" font-size="275" transform="rotate(-3 455 1295)" textLength="172" lengthAdjust="spacingAndGlyphs" fill="#0d2260" style="stroke:#0d2260;stroke-width:8px">#</text>
<text x="648" y="1296" font-size="285" transform="rotate(-1 648 1296)" textLength="437" lengthAdjust="spacingAndGlyphs" fill="#22a780" style="stroke:#22a780;stroke-width:10px">E2PS</text>
<text x="1092" y="1263" font-size="188" transform="rotate(-1.5 1092 1263)" textLength="492" lengthAdjust="spacingAndGlyphs" fill="#22a780" style="stroke:#22a780;stroke-width:9px">ummit</text>
<text x="1597" y="1240" font-size="238" transform="rotate(2 1597 1240)" textLength="433" lengthAdjust="spacingAndGlyphs" fill="#22a780" style="stroke:#22a780;stroke-width:10px">2023</text>
</g>
<g transform="translate(3460 1900) scale(0.13975)">
<text x="205" y="805" font-size="900" transform="rotate(3.5 205 805)" textLength="1200" lengthAdjust="spacingAndGlyphs" font-weight="700" fill="#ee5a14" font-family="Liberation Serif" style="stroke:#ee5a14;stroke-width:10.0px">drawn</text>
<text x="1365" y="835" font-size="500" textLength="190" lengthAdjust="spacingAndGlyphs" font-weight="700" fill="#267f24" style="font-style:italic;stroke:#267f24;stroke-width:10.0px">A</text>
<text x="1500" y="925" font-size="840" textLength="330" lengthAdjust="spacingAndGlyphs" font-weight="700" fill="#267f24" style="font-style:italic;stroke:#267f24;stroke-width:10.0px">L</text>
<text x="1690" y="748" font-size="440" textLength="62" lengthAdjust="spacingAndGlyphs" font-weight="700" fill="#267f24" style="stroke:#267f24;stroke-width:10.0px">i</text>
<text x="1790" y="772" font-size="430" textLength="160" lengthAdjust="spacingAndGlyphs" font-weight="700" fill="#267f24" style="stroke:#267f24;stroke-width:10.0px">S</text>
<text x="1990" y="802" font-size="490" textLength="275" lengthAdjust="spacingAndGlyphs" font-weight="700" fill="#267f24" style="stroke:#267f24;stroke-width:10.0px">M</text>
</g>
</svg>
</body></html>
